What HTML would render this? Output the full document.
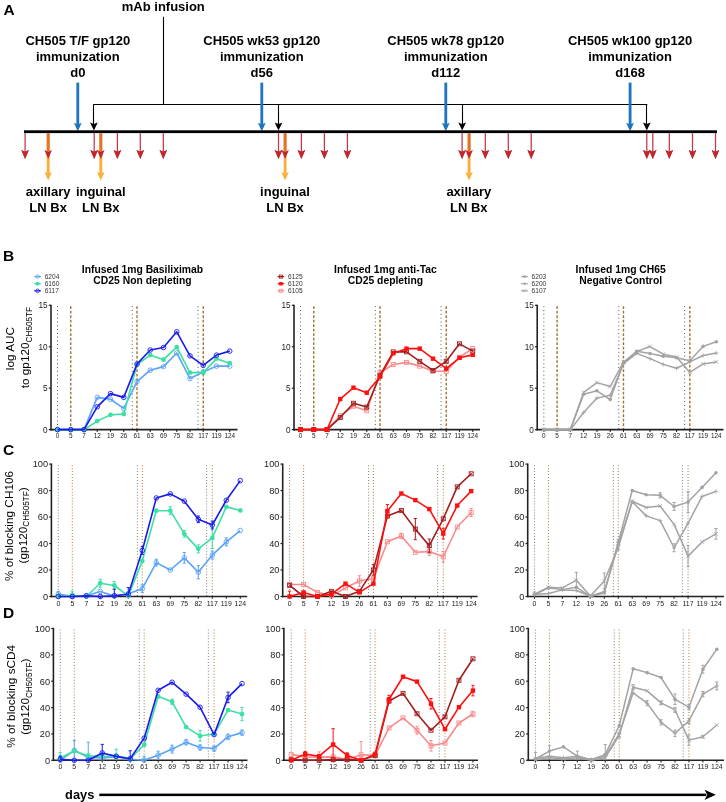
<!DOCTYPE html>
<html><head><meta charset="utf-8"><title>Figure</title>
<style>
html,body{margin:0;padding:0;background:#fff;}
body{width:726px;height:802px;overflow:hidden;}
svg{display:block;font-family:"Liberation Sans", sans-serif;will-change:transform;}
</style></head>
<body>
<svg width="726" height="802" viewBox="0 0 726 802">
<rect width="726" height="802" fill="#fff"/>
<text x="3.5" y="14.9" font-size="15.5" font-weight="bold" text-anchor="start" fill="#000" >A</text>
<text x="163.3" y="10.9" font-size="13" font-weight="bold" text-anchor="middle" fill="#000" >mAb infusion</text>
<line x1="163.5" y1="16.8" x2="163.5" y2="104.5" stroke="#000" stroke-width="1.1" />
<line x1="93.4" y1="104.5" x2="647.3" y2="104.5" stroke="#000" stroke-width="1.1" />
<text x="77.8" y="45.4" font-size="13" font-weight="bold" text-anchor="middle" fill="#000" >CH505 T/F gp120</text>
<text x="77.8" y="61.1" font-size="13" font-weight="bold" text-anchor="middle" fill="#000" >immunization</text>
<text x="77.8" y="76.6" font-size="13" font-weight="bold" text-anchor="middle" fill="#000" >d0</text>
<rect x="76.4" y="82.6" width="2.8" height="42.3" fill="#1C75BC"/>
<path d="M73.85,122.8 L77.8,124.6 L81.75,122.8 L77.8,131.3 Z" fill="#1C75BC"/>
<text x="261.8" y="45.4" font-size="13" font-weight="bold" text-anchor="middle" fill="#000" >CH505 wk53 gp120</text>
<text x="261.8" y="61.1" font-size="13" font-weight="bold" text-anchor="middle" fill="#000" >immunization</text>
<text x="261.8" y="76.6" font-size="13" font-weight="bold" text-anchor="middle" fill="#000" >d56</text>
<rect x="260.4" y="82.6" width="2.8" height="42.3" fill="#1C75BC"/>
<path d="M257.85,122.8 L261.8,124.6 L265.75,122.8 L261.8,131.3 Z" fill="#1C75BC"/>
<text x="445.8" y="45.4" font-size="13" font-weight="bold" text-anchor="middle" fill="#000" >CH505 wk78 gp120</text>
<text x="445.8" y="61.1" font-size="13" font-weight="bold" text-anchor="middle" fill="#000" >immunization</text>
<text x="445.8" y="76.6" font-size="13" font-weight="bold" text-anchor="middle" fill="#000" >d112</text>
<rect x="444.4" y="82.6" width="2.8" height="42.3" fill="#1C75BC"/>
<path d="M441.85,122.8 L445.8,124.6 L449.75,122.8 L445.8,131.3 Z" fill="#1C75BC"/>
<text x="630.1" y="45.4" font-size="13" font-weight="bold" text-anchor="middle" fill="#000" >CH505 wk100 gp120</text>
<text x="630.1" y="61.1" font-size="13" font-weight="bold" text-anchor="middle" fill="#000" >immunization</text>
<text x="630.1" y="76.6" font-size="13" font-weight="bold" text-anchor="middle" fill="#000" >d168</text>
<rect x="628.7" y="82.6" width="2.8" height="42.3" fill="#1C75BC"/>
<path d="M626.15,122.8 L630.1,124.6 L634.05,122.8 L630.1,131.3 Z" fill="#1C75BC"/>
<rect x="24" y="130.3" width="693" height="2.8" fill="#000"/>
<line x1="93.5" y1="104.4" x2="93.5" y2="124" stroke="#000" stroke-width="1.1" />
<path d="M90.05,122.4 L93.9,124 L97.75,122.4 L93.9,130.6 Z" fill="#000"/>
<line x1="278.5" y1="104.4" x2="278.5" y2="124" stroke="#000" stroke-width="1.1" />
<path d="M274.65,122.4 L278.5,124 L282.35,122.4 L278.5,130.6 Z" fill="#000"/>
<line x1="462.5" y1="104.4" x2="462.5" y2="124" stroke="#000" stroke-width="1.1" />
<path d="M458.35,122.4 L462.2,124 L466.05,122.4 L462.2,130.6 Z" fill="#000"/>
<line x1="646.5" y1="104.4" x2="646.5" y2="124" stroke="#000" stroke-width="1.1" />
<path d="M642.95,122.4 L646.8,124 L650.65,122.4 L646.8,130.6 Z" fill="#000"/>
<rect x="46.75" y="133.1" width="2.9" height="40.7" fill="#FAAF3B"/>
<path d="M44.45,172 L48.2,173.5 L51.95,172 L48.2,180.5 Z" fill="#FAAF3B"/>
<rect x="46.75" y="133.1" width="2.9" height="18" fill="#E3722E"/>
<rect x="99.35" y="133.1" width="2.9" height="40.7" fill="#FAAF3B"/>
<path d="M97.05,172 L100.8,173.5 L104.55,172 L100.8,180.5 Z" fill="#FAAF3B"/>
<rect x="99.35" y="133.1" width="2.9" height="18" fill="#E3722E"/>
<rect x="283.65" y="133.1" width="2.9" height="40.7" fill="#FAAF3B"/>
<path d="M281.35,172 L285.1,173.5 L288.85,172 L285.1,180.5 Z" fill="#FAAF3B"/>
<rect x="283.65" y="133.1" width="2.9" height="18" fill="#E3722E"/>
<rect x="467.65" y="133.1" width="2.9" height="40.7" fill="#FAAF3B"/>
<path d="M465.35,172 L469.1,173.5 L472.85,172 L469.1,180.5 Z" fill="#FAAF3B"/>
<rect x="467.65" y="133.1" width="2.9" height="18" fill="#E3722E"/>
<rect x="24.48" y="133.1" width="1.25" height="19" fill="#C3364A"/>
<path d="M21.3,150.1 L25.1,151.8 L28.9,150.1 L25.1,158.9 Z" fill="#C3364A"/>
<path d="M21.3,150.1 L25.1,151.8 L28.9,150.1 L25.1,158.9 Z" fill="#C1272D"/>
<path d="M44.4,150.1 L48.2,151.8 L52,150.1 L48.2,158.9 Z" fill="#C1272D"/>
<rect x="93.58" y="133.1" width="1.25" height="19" fill="#C3364A"/>
<path d="M90.4,150.1 L94.2,151.8 L98,150.1 L94.2,158.9 Z" fill="#C3364A"/>
<path d="M90.4,150.1 L94.2,151.8 L98,150.1 L94.2,158.9 Z" fill="#C1272D"/>
<path d="M97,150.1 L100.8,151.8 L104.6,150.1 L100.8,158.9 Z" fill="#C1272D"/>
<rect x="116.78" y="133.1" width="1.25" height="19" fill="#C3364A"/>
<path d="M113.6,150.1 L117.4,151.8 L121.2,150.1 L117.4,158.9 Z" fill="#C3364A"/>
<path d="M113.6,150.1 L117.4,151.8 L121.2,150.1 L117.4,158.9 Z" fill="#C1272D"/>
<rect x="139.68" y="133.1" width="1.25" height="19" fill="#C3364A"/>
<path d="M136.5,150.1 L140.3,151.8 L144.1,150.1 L140.3,158.9 Z" fill="#C3364A"/>
<path d="M136.5,150.1 L140.3,151.8 L144.1,150.1 L140.3,158.9 Z" fill="#C1272D"/>
<rect x="162.68" y="133.1" width="1.25" height="19" fill="#C3364A"/>
<path d="M159.5,150.1 L163.3,151.8 L167.1,150.1 L163.3,158.9 Z" fill="#C3364A"/>
<path d="M159.5,150.1 L163.3,151.8 L167.1,150.1 L163.3,158.9 Z" fill="#C1272D"/>
<rect x="277.88" y="133.1" width="1.25" height="19" fill="#C3364A"/>
<path d="M274.7,150.1 L278.5,151.8 L282.3,150.1 L278.5,158.9 Z" fill="#C3364A"/>
<path d="M274.7,150.1 L278.5,151.8 L282.3,150.1 L278.5,158.9 Z" fill="#C1272D"/>
<path d="M281.3,150.1 L285.1,151.8 L288.9,150.1 L285.1,158.9 Z" fill="#C1272D"/>
<rect x="300.77" y="133.1" width="1.25" height="19" fill="#C3364A"/>
<path d="M297.6,150.1 L301.4,151.8 L305.2,150.1 L301.4,158.9 Z" fill="#C3364A"/>
<path d="M297.6,150.1 L301.4,151.8 L305.2,150.1 L301.4,158.9 Z" fill="#C1272D"/>
<rect x="323.77" y="133.1" width="1.25" height="19" fill="#C3364A"/>
<path d="M320.6,150.1 L324.4,151.8 L328.2,150.1 L324.4,158.9 Z" fill="#C3364A"/>
<path d="M320.6,150.1 L324.4,151.8 L328.2,150.1 L324.4,158.9 Z" fill="#C1272D"/>
<rect x="346.77" y="133.1" width="1.25" height="19" fill="#C3364A"/>
<path d="M343.6,150.1 L347.4,151.8 L351.2,150.1 L347.4,158.9 Z" fill="#C3364A"/>
<path d="M343.6,150.1 L347.4,151.8 L351.2,150.1 L347.4,158.9 Z" fill="#C1272D"/>
<rect x="461.48" y="133.1" width="1.25" height="19" fill="#C3364A"/>
<path d="M458.3,150.1 L462.1,151.8 L465.9,150.1 L462.1,158.9 Z" fill="#C3364A"/>
<path d="M458.3,150.1 L462.1,151.8 L465.9,150.1 L462.1,158.9 Z" fill="#C1272D"/>
<path d="M465.3,150.1 L469.1,151.8 L472.9,150.1 L469.1,158.9 Z" fill="#C1272D"/>
<rect x="484.68" y="133.1" width="1.25" height="19" fill="#C3364A"/>
<path d="M481.5,150.1 L485.3,151.8 L489.1,150.1 L485.3,158.9 Z" fill="#C3364A"/>
<path d="M481.5,150.1 L485.3,151.8 L489.1,150.1 L485.3,158.9 Z" fill="#C1272D"/>
<rect x="507.68" y="133.1" width="1.25" height="19" fill="#C3364A"/>
<path d="M504.5,150.1 L508.3,151.8 L512.1,150.1 L508.3,158.9 Z" fill="#C3364A"/>
<path d="M504.5,150.1 L508.3,151.8 L512.1,150.1 L508.3,158.9 Z" fill="#C1272D"/>
<rect x="530.58" y="133.1" width="1.25" height="19" fill="#C3364A"/>
<path d="M527.4,150.1 L531.2,151.8 L535,150.1 L531.2,158.9 Z" fill="#C3364A"/>
<path d="M527.4,150.1 L531.2,151.8 L535,150.1 L531.2,158.9 Z" fill="#C1272D"/>
<rect x="646.17" y="133.1" width="1.25" height="19" fill="#C3364A"/>
<path d="M643,150.1 L646.8,151.8 L650.6,150.1 L646.8,158.9 Z" fill="#C3364A"/>
<path d="M643,150.1 L646.8,151.8 L650.6,150.1 L646.8,158.9 Z" fill="#C1272D"/>
<rect x="652.17" y="133.1" width="1.25" height="19" fill="#C3364A"/>
<path d="M649,150.1 L652.8,151.8 L656.6,150.1 L652.8,158.9 Z" fill="#C3364A"/>
<path d="M649,150.1 L652.8,151.8 L656.6,150.1 L652.8,158.9 Z" fill="#C1272D"/>
<rect x="668.67" y="133.1" width="1.25" height="19" fill="#C3364A"/>
<path d="M665.5,150.1 L669.3,151.8 L673.1,150.1 L669.3,158.9 Z" fill="#C3364A"/>
<path d="M665.5,150.1 L669.3,151.8 L673.1,150.1 L669.3,158.9 Z" fill="#C1272D"/>
<rect x="691.88" y="133.1" width="1.25" height="19" fill="#C3364A"/>
<path d="M688.7,150.1 L692.5,151.8 L696.3,150.1 L692.5,158.9 Z" fill="#C3364A"/>
<path d="M688.7,150.1 L692.5,151.8 L696.3,150.1 L692.5,158.9 Z" fill="#C1272D"/>
<rect x="714.88" y="133.1" width="1.25" height="19" fill="#C3364A"/>
<path d="M711.7,150.1 L715.5,151.8 L719.3,150.1 L715.5,158.9 Z" fill="#C3364A"/>
<path d="M711.7,150.1 L715.5,151.8 L719.3,150.1 L715.5,158.9 Z" fill="#C1272D"/>
<text x="48.1" y="196.4" font-size="13" font-weight="bold" text-anchor="middle" fill="#000" >axillary</text>
<text x="48.1" y="211.9" font-size="13" font-weight="bold" text-anchor="middle" fill="#000" >LN Bx</text>
<text x="100.8" y="196.4" font-size="13" font-weight="bold" text-anchor="middle" fill="#000" >inguinal</text>
<text x="100.8" y="211.9" font-size="13" font-weight="bold" text-anchor="middle" fill="#000" >LN Bx</text>
<text x="285" y="196.4" font-size="13" font-weight="bold" text-anchor="middle" fill="#000" >inguinal</text>
<text x="285" y="211.9" font-size="13" font-weight="bold" text-anchor="middle" fill="#000" >LN Bx</text>
<text x="468.8" y="196.4" font-size="13" font-weight="bold" text-anchor="middle" fill="#000" >axillary</text>
<text x="468.8" y="211.9" font-size="13" font-weight="bold" text-anchor="middle" fill="#000" >LN Bx</text>
<text x="3" y="260.9" font-size="15.5" font-weight="bold" text-anchor="start" fill="#000" >B</text>
<line x1="57.5" y1="306.3" x2="57.5" y2="429" stroke="#333" stroke-width="0.9" stroke-dasharray="0.9 2.9"/>
<line x1="70.75" y1="306.3" x2="70.75" y2="429" stroke="#A37330" stroke-width="1.4" stroke-dasharray="2.7 1.8"/>
<line x1="132.3" y1="306.3" x2="132.3" y2="429" stroke="#333" stroke-width="0.9" stroke-dasharray="0.9 2.9"/>
<line x1="137" y1="306.3" x2="137" y2="429" stroke="#A37330" stroke-width="1.4" stroke-dasharray="2.7 1.8"/>
<line x1="198.05" y1="306.3" x2="198.05" y2="429" stroke="#333" stroke-width="0.9" stroke-dasharray="0.9 2.9"/>
<line x1="203.25" y1="306.3" x2="203.25" y2="429" stroke="#A37330" stroke-width="1.4" stroke-dasharray="2.7 1.8"/>
<line x1="51" y1="304.7" x2="51" y2="430.4" stroke="#222" stroke-width="1.6" />
<line x1="48.8" y1="429.6" x2="51" y2="429.6" stroke="#222" stroke-width="1.2" />
<text x="47.6" y="432.55" font-size="8.2" text-anchor="end" fill="#222" >0</text>
<line x1="48.8" y1="388.17" x2="51" y2="388.17" stroke="#222" stroke-width="1.2" />
<text x="47.6" y="391.12" font-size="8.2" text-anchor="end" fill="#222" >5</text>
<line x1="48.8" y1="346.73" x2="51" y2="346.73" stroke="#222" stroke-width="1.2" />
<text x="47.6" y="349.68" font-size="8.2" text-anchor="end" fill="#222" >10</text>
<line x1="48.8" y1="305.3" x2="51" y2="305.3" stroke="#222" stroke-width="1.2" />
<text x="47.6" y="308.25" font-size="8.2" text-anchor="end" fill="#222" >15</text>
<line x1="50.2" y1="429.6" x2="237.5" y2="429.6" stroke="#222" stroke-width="1.6" />
<line x1="57.5" y1="429.6" x2="57.5" y2="431.9" stroke="#222" stroke-width="1.1" />
<text x="57.5" y="438" font-size="6.4" text-anchor="middle" fill="#222" >0</text>
<line x1="70.75" y1="429.6" x2="70.75" y2="431.9" stroke="#222" stroke-width="1.1" />
<text x="70.75" y="438" font-size="6.4" text-anchor="middle" fill="#222" >5</text>
<line x1="84" y1="429.6" x2="84" y2="431.9" stroke="#222" stroke-width="1.1" />
<text x="84" y="438" font-size="6.4" text-anchor="middle" fill="#222" >7</text>
<line x1="97.25" y1="429.6" x2="97.25" y2="431.9" stroke="#222" stroke-width="1.1" />
<text x="97.25" y="438" font-size="6.4" text-anchor="middle" fill="#222" >12</text>
<line x1="110.5" y1="429.6" x2="110.5" y2="431.9" stroke="#222" stroke-width="1.1" />
<text x="110.5" y="438" font-size="6.4" text-anchor="middle" fill="#222" >19</text>
<line x1="123.75" y1="429.6" x2="123.75" y2="431.9" stroke="#222" stroke-width="1.1" />
<text x="123.75" y="438" font-size="6.4" text-anchor="middle" fill="#222" >26</text>
<line x1="137" y1="429.6" x2="137" y2="431.9" stroke="#222" stroke-width="1.1" />
<text x="137" y="438" font-size="6.4" text-anchor="middle" fill="#222" >61</text>
<line x1="150.25" y1="429.6" x2="150.25" y2="431.9" stroke="#222" stroke-width="1.1" />
<text x="150.25" y="438" font-size="6.4" text-anchor="middle" fill="#222" >63</text>
<line x1="163.5" y1="429.6" x2="163.5" y2="431.9" stroke="#222" stroke-width="1.1" />
<text x="163.5" y="438" font-size="6.4" text-anchor="middle" fill="#222" >69</text>
<line x1="176.75" y1="429.6" x2="176.75" y2="431.9" stroke="#222" stroke-width="1.1" />
<text x="176.75" y="438" font-size="6.4" text-anchor="middle" fill="#222" >75</text>
<line x1="190" y1="429.6" x2="190" y2="431.9" stroke="#222" stroke-width="1.1" />
<text x="190" y="438" font-size="6.4" text-anchor="middle" fill="#222" >82</text>
<line x1="203.25" y1="429.6" x2="203.25" y2="431.9" stroke="#222" stroke-width="1.1" />
<text x="203.25" y="438" font-size="6.4" text-anchor="middle" fill="#222" >117</text>
<line x1="216.5" y1="429.6" x2="216.5" y2="431.9" stroke="#222" stroke-width="1.1" />
<text x="216.5" y="438" font-size="6.4" text-anchor="middle" fill="#222" >119</text>
<line x1="229.75" y1="429.6" x2="229.75" y2="431.9" stroke="#222" stroke-width="1.1" />
<text x="229.75" y="438" font-size="6.4" text-anchor="middle" fill="#222" >124</text>
<line x1="300.5" y1="306.3" x2="300.5" y2="429" stroke="#333" stroke-width="0.9" stroke-dasharray="0.9 2.9"/>
<line x1="313.75" y1="306.3" x2="313.75" y2="429" stroke="#A37330" stroke-width="1.4" stroke-dasharray="2.7 1.8"/>
<line x1="375.3" y1="306.3" x2="375.3" y2="429" stroke="#333" stroke-width="0.9" stroke-dasharray="0.9 2.9"/>
<line x1="380" y1="306.3" x2="380" y2="429" stroke="#A37330" stroke-width="1.4" stroke-dasharray="2.7 1.8"/>
<line x1="441.05" y1="306.3" x2="441.05" y2="429" stroke="#333" stroke-width="0.9" stroke-dasharray="0.9 2.9"/>
<line x1="446.25" y1="306.3" x2="446.25" y2="429" stroke="#A37330" stroke-width="1.4" stroke-dasharray="2.7 1.8"/>
<line x1="294" y1="304.7" x2="294" y2="430.4" stroke="#222" stroke-width="1.6" />
<line x1="291.8" y1="429.6" x2="294" y2="429.6" stroke="#222" stroke-width="1.2" />
<text x="290.6" y="432.55" font-size="8.2" text-anchor="end" fill="#222" >0</text>
<line x1="291.8" y1="388.17" x2="294" y2="388.17" stroke="#222" stroke-width="1.2" />
<text x="290.6" y="391.12" font-size="8.2" text-anchor="end" fill="#222" >5</text>
<line x1="291.8" y1="346.73" x2="294" y2="346.73" stroke="#222" stroke-width="1.2" />
<text x="290.6" y="349.68" font-size="8.2" text-anchor="end" fill="#222" >10</text>
<line x1="291.8" y1="305.3" x2="294" y2="305.3" stroke="#222" stroke-width="1.2" />
<text x="290.6" y="308.25" font-size="8.2" text-anchor="end" fill="#222" >15</text>
<line x1="293.2" y1="429.6" x2="480" y2="429.6" stroke="#222" stroke-width="1.6" />
<line x1="300.5" y1="429.6" x2="300.5" y2="431.9" stroke="#222" stroke-width="1.1" />
<text x="300.5" y="438" font-size="6.4" text-anchor="middle" fill="#222" >0</text>
<line x1="313.75" y1="429.6" x2="313.75" y2="431.9" stroke="#222" stroke-width="1.1" />
<text x="313.75" y="438" font-size="6.4" text-anchor="middle" fill="#222" >5</text>
<line x1="327" y1="429.6" x2="327" y2="431.9" stroke="#222" stroke-width="1.1" />
<text x="327" y="438" font-size="6.4" text-anchor="middle" fill="#222" >7</text>
<line x1="340.25" y1="429.6" x2="340.25" y2="431.9" stroke="#222" stroke-width="1.1" />
<text x="340.25" y="438" font-size="6.4" text-anchor="middle" fill="#222" >12</text>
<line x1="353.5" y1="429.6" x2="353.5" y2="431.9" stroke="#222" stroke-width="1.1" />
<text x="353.5" y="438" font-size="6.4" text-anchor="middle" fill="#222" >19</text>
<line x1="366.75" y1="429.6" x2="366.75" y2="431.9" stroke="#222" stroke-width="1.1" />
<text x="366.75" y="438" font-size="6.4" text-anchor="middle" fill="#222" >26</text>
<line x1="380" y1="429.6" x2="380" y2="431.9" stroke="#222" stroke-width="1.1" />
<text x="380" y="438" font-size="6.4" text-anchor="middle" fill="#222" >61</text>
<line x1="393.25" y1="429.6" x2="393.25" y2="431.9" stroke="#222" stroke-width="1.1" />
<text x="393.25" y="438" font-size="6.4" text-anchor="middle" fill="#222" >63</text>
<line x1="406.5" y1="429.6" x2="406.5" y2="431.9" stroke="#222" stroke-width="1.1" />
<text x="406.5" y="438" font-size="6.4" text-anchor="middle" fill="#222" >69</text>
<line x1="419.75" y1="429.6" x2="419.75" y2="431.9" stroke="#222" stroke-width="1.1" />
<text x="419.75" y="438" font-size="6.4" text-anchor="middle" fill="#222" >75</text>
<line x1="433" y1="429.6" x2="433" y2="431.9" stroke="#222" stroke-width="1.1" />
<text x="433" y="438" font-size="6.4" text-anchor="middle" fill="#222" >82</text>
<line x1="446.25" y1="429.6" x2="446.25" y2="431.9" stroke="#222" stroke-width="1.1" />
<text x="446.25" y="438" font-size="6.4" text-anchor="middle" fill="#222" >117</text>
<line x1="459.5" y1="429.6" x2="459.5" y2="431.9" stroke="#222" stroke-width="1.1" />
<text x="459.5" y="438" font-size="6.4" text-anchor="middle" fill="#222" >119</text>
<line x1="472.75" y1="429.6" x2="472.75" y2="431.9" stroke="#222" stroke-width="1.1" />
<text x="472.75" y="438" font-size="6.4" text-anchor="middle" fill="#222" >124</text>
<line x1="543.85" y1="306.3" x2="543.85" y2="429" stroke="#333" stroke-width="0.9" stroke-dasharray="0.9 2.9"/>
<line x1="557.12" y1="306.3" x2="557.12" y2="429" stroke="#A37330" stroke-width="1.4" stroke-dasharray="2.7 1.8"/>
<line x1="618.77" y1="306.3" x2="618.77" y2="429" stroke="#333" stroke-width="0.9" stroke-dasharray="0.9 2.9"/>
<line x1="623.47" y1="306.3" x2="623.47" y2="429" stroke="#A37330" stroke-width="1.4" stroke-dasharray="2.7 1.8"/>
<line x1="684.62" y1="306.3" x2="684.62" y2="429" stroke="#333" stroke-width="0.9" stroke-dasharray="0.9 2.9"/>
<line x1="689.82" y1="306.3" x2="689.82" y2="429" stroke="#A37330" stroke-width="1.4" stroke-dasharray="2.7 1.8"/>
<line x1="537.2" y1="304.7" x2="537.2" y2="430.4" stroke="#222" stroke-width="1.6" />
<line x1="535" y1="429.6" x2="537.2" y2="429.6" stroke="#222" stroke-width="1.2" />
<text x="533.8" y="432.55" font-size="8.2" text-anchor="end" fill="#222" >0</text>
<line x1="535" y1="388.17" x2="537.2" y2="388.17" stroke="#222" stroke-width="1.2" />
<text x="533.8" y="391.12" font-size="8.2" text-anchor="end" fill="#222" >5</text>
<line x1="535" y1="346.73" x2="537.2" y2="346.73" stroke="#222" stroke-width="1.2" />
<text x="533.8" y="349.68" font-size="8.2" text-anchor="end" fill="#222" >10</text>
<line x1="535" y1="305.3" x2="537.2" y2="305.3" stroke="#222" stroke-width="1.2" />
<text x="533.8" y="308.25" font-size="8.2" text-anchor="end" fill="#222" >15</text>
<line x1="536.4" y1="429.6" x2="723.5" y2="429.6" stroke="#222" stroke-width="1.6" />
<line x1="543.85" y1="429.6" x2="543.85" y2="431.9" stroke="#222" stroke-width="1.1" />
<text x="543.85" y="438" font-size="6.4" text-anchor="middle" fill="#222" >0</text>
<line x1="557.12" y1="429.6" x2="557.12" y2="431.9" stroke="#222" stroke-width="1.1" />
<text x="557.12" y="438" font-size="6.4" text-anchor="middle" fill="#222" >5</text>
<line x1="570.39" y1="429.6" x2="570.39" y2="431.9" stroke="#222" stroke-width="1.1" />
<text x="570.39" y="438" font-size="6.4" text-anchor="middle" fill="#222" >7</text>
<line x1="583.66" y1="429.6" x2="583.66" y2="431.9" stroke="#222" stroke-width="1.1" />
<text x="583.66" y="438" font-size="6.4" text-anchor="middle" fill="#222" >12</text>
<line x1="596.93" y1="429.6" x2="596.93" y2="431.9" stroke="#222" stroke-width="1.1" />
<text x="596.93" y="438" font-size="6.4" text-anchor="middle" fill="#222" >19</text>
<line x1="610.2" y1="429.6" x2="610.2" y2="431.9" stroke="#222" stroke-width="1.1" />
<text x="610.2" y="438" font-size="6.4" text-anchor="middle" fill="#222" >26</text>
<line x1="623.47" y1="429.6" x2="623.47" y2="431.9" stroke="#222" stroke-width="1.1" />
<text x="623.47" y="438" font-size="6.4" text-anchor="middle" fill="#222" >61</text>
<line x1="636.74" y1="429.6" x2="636.74" y2="431.9" stroke="#222" stroke-width="1.1" />
<text x="636.74" y="438" font-size="6.4" text-anchor="middle" fill="#222" >63</text>
<line x1="650.01" y1="429.6" x2="650.01" y2="431.9" stroke="#222" stroke-width="1.1" />
<text x="650.01" y="438" font-size="6.4" text-anchor="middle" fill="#222" >69</text>
<line x1="663.28" y1="429.6" x2="663.28" y2="431.9" stroke="#222" stroke-width="1.1" />
<text x="663.28" y="438" font-size="6.4" text-anchor="middle" fill="#222" >75</text>
<line x1="676.55" y1="429.6" x2="676.55" y2="431.9" stroke="#222" stroke-width="1.1" />
<text x="676.55" y="438" font-size="6.4" text-anchor="middle" fill="#222" >82</text>
<line x1="689.82" y1="429.6" x2="689.82" y2="431.9" stroke="#222" stroke-width="1.1" />
<text x="689.82" y="438" font-size="6.4" text-anchor="middle" fill="#222" >117</text>
<line x1="703.09" y1="429.6" x2="703.09" y2="431.9" stroke="#222" stroke-width="1.1" />
<text x="703.09" y="438" font-size="6.4" text-anchor="middle" fill="#222" >119</text>
<line x1="716.36" y1="429.6" x2="716.36" y2="431.9" stroke="#222" stroke-width="1.1" />
<text x="716.36" y="438" font-size="6.4" text-anchor="middle" fill="#222" >124</text>
<text x="142.5" y="272.9" font-size="10.35" font-weight="bold" text-anchor="middle" fill="#000" >Infused 1mg Basiliximab</text>
<text x="142.5" y="284.3" font-size="10.35" font-weight="bold" text-anchor="middle" fill="#000" >CD25 Non depleting</text>
<text x="385.4" y="272.9" font-size="10.35" font-weight="bold" text-anchor="middle" fill="#000" >Infused 1mg anti-Tac</text>
<text x="385.4" y="284.3" font-size="10.35" font-weight="bold" text-anchor="middle" fill="#000" >CD25 depleting</text>
<text x="620.7" y="272.9" font-size="10.35" font-weight="bold" text-anchor="middle" fill="#000" >Infused 1mg CH65</text>
<text x="620.7" y="284.3" font-size="10.35" font-weight="bold" text-anchor="middle" fill="#000" >Negative Control</text>
<line x1="34.3" y1="276.6" x2="40.9" y2="276.6" stroke="#5BA3F7" stroke-width="1.3" />
<g transform="translate(37.6,276.6) scale(0.8) translate(-37.6,-276.6)">
<circle cx="37.6" cy="276.6" r="2.3" fill="none" stroke="#5BA3F7" stroke-width="0.9"/>
</g>
<text x="44.7" y="278.9" font-size="6.6" text-anchor="start" fill="#333" >6204</text>
<line x1="34.3" y1="283.7" x2="40.9" y2="283.7" stroke="#3DE0A2" stroke-width="1.3" />
<g transform="translate(37.6,283.7) scale(0.8) translate(-37.6,-283.7)">
<circle cx="37.6" cy="283.7" r="2.4" fill="#3DE0A2"/>
</g>
<text x="44.7" y="286" font-size="6.6" text-anchor="start" fill="#333" >6160</text>
<line x1="34.3" y1="290.8" x2="40.9" y2="290.8" stroke="#1A1AEE" stroke-width="1.3" />
<g transform="translate(37.6,290.8) scale(0.8) translate(-37.6,-290.8)">
<circle cx="37.6" cy="290.8" r="2.3" fill="none" stroke="#1A1AEE" stroke-width="0.9"/>
</g>
<text x="44.7" y="293.1" font-size="6.6" text-anchor="start" fill="#333" >6117</text>
<line x1="277.6" y1="276.6" x2="284.2" y2="276.6" stroke="#A01E1E" stroke-width="1.3" />
<g transform="translate(280.9,276.6) scale(0.8) translate(-280.9,-276.6)">
<rect x="278.9" y="274.6" width="4" height="4" fill="none" stroke="#A01E1E" stroke-width="0.9"/>
<path d="M279.3,275 L282.5,278.2 M282.5,275 L279.3,278.2" stroke="#A01E1E" stroke-width="0.7"/>
</g>
<text x="288" y="278.9" font-size="6.6" text-anchor="start" fill="#333" >6125</text>
<line x1="277.6" y1="283.7" x2="284.2" y2="283.7" stroke="#FF1010" stroke-width="1.3" />
<g transform="translate(280.9,283.7) scale(0.8) translate(-280.9,-283.7)">
<rect x="278.7" y="281.5" width="4.4" height="4.4" fill="#FF1010"/>
</g>
<text x="288" y="286" font-size="6.6" text-anchor="start" fill="#333" >6120</text>
<line x1="277.6" y1="290.8" x2="284.2" y2="290.8" stroke="#F98A8A" stroke-width="1.3" />
<g transform="translate(280.9,290.8) scale(0.8) translate(-280.9,-290.8)">
<rect x="278.9" y="288.8" width="4" height="4" fill="none" stroke="#F98A8A" stroke-width="0.9"/>
</g>
<text x="288" y="293.1" font-size="6.6" text-anchor="start" fill="#333" >6105</text>
<line x1="521.2" y1="276.6" x2="527.8" y2="276.6" stroke="#A3A3A3" stroke-width="1.3" />
<g transform="translate(524.5,276.6) scale(0.8) translate(-524.5,-276.6)">
<circle cx="524.5" cy="276.6" r="1.8" fill="#A3A3A3"/>
</g>
<text x="531.6" y="278.9" font-size="6.6" text-anchor="start" fill="#333" >6203</text>
<line x1="521.2" y1="283.7" x2="527.8" y2="283.7" stroke="#A3A3A3" stroke-width="1.3" />
<g transform="translate(524.5,283.7) scale(0.8) translate(-524.5,-283.7)">
<path d="M522.3,283.7 L526.7,283.7 M524.5,281.5 L524.5,285.9" stroke="#A3A3A3" stroke-width="0.8"/>
</g>
<text x="531.6" y="286" font-size="6.6" text-anchor="start" fill="#333" >6200</text>
<line x1="521.2" y1="290.8" x2="527.8" y2="290.8" stroke="#A3A3A3" stroke-width="1.3" />
<g transform="translate(524.5,290.8) scale(0.8) translate(-524.5,-290.8)">
<path d="M522.5,288.8 L526.5,292.8 M526.5,288.8 L522.5,292.8" stroke="#A3A3A3" stroke-width="0.8"/>
</g>
<text x="531.6" y="293.1" font-size="6.6" text-anchor="start" fill="#333" >6107</text>
<path d="M57.5,429.6 L70.75,429.6 L84,429.6 L97.25,397.36 L110.5,399.27 L123.75,408.39 L137,381.54 L150.25,370.18 L163.5,366.62 L176.75,352.95 L190,378.55 L203.25,372.09 L216.5,366.12 L229.75,366.12" fill="none" stroke="#5BA3F7" stroke-width="1.6" stroke-linejoin="round"/>
<circle cx="57.5" cy="429.6" r="2.3" fill="none" stroke="#5BA3F7" stroke-width="0.9"/>
<circle cx="70.75" cy="429.6" r="2.3" fill="none" stroke="#5BA3F7" stroke-width="0.9"/>
<circle cx="84" cy="429.6" r="2.3" fill="none" stroke="#5BA3F7" stroke-width="0.9"/>
<circle cx="97.25" cy="397.36" r="2.3" fill="none" stroke="#5BA3F7" stroke-width="0.9"/>
<circle cx="110.5" cy="399.27" r="2.3" fill="none" stroke="#5BA3F7" stroke-width="0.9"/>
<circle cx="123.75" cy="408.39" r="2.3" fill="none" stroke="#5BA3F7" stroke-width="0.9"/>
<circle cx="137" cy="381.54" r="2.3" fill="none" stroke="#5BA3F7" stroke-width="0.9"/>
<circle cx="150.25" cy="370.18" r="2.3" fill="none" stroke="#5BA3F7" stroke-width="0.9"/>
<circle cx="163.5" cy="366.62" r="2.3" fill="none" stroke="#5BA3F7" stroke-width="0.9"/>
<circle cx="176.75" cy="352.95" r="2.3" fill="none" stroke="#5BA3F7" stroke-width="0.9"/>
<circle cx="190" cy="378.55" r="2.3" fill="none" stroke="#5BA3F7" stroke-width="0.9"/>
<circle cx="203.25" cy="372.09" r="2.3" fill="none" stroke="#5BA3F7" stroke-width="0.9"/>
<circle cx="216.5" cy="366.12" r="2.3" fill="none" stroke="#5BA3F7" stroke-width="0.9"/>
<circle cx="229.75" cy="366.12" r="2.3" fill="none" stroke="#5BA3F7" stroke-width="0.9"/>
<path d="M57.5,429.6 L70.75,429.6 L84,429.6 L97.25,421.06 L110.5,414.85 L123.75,414.02 L137,364.55 L150.25,355.1 L163.5,359.66 L176.75,347.06 L190,372.59 L203.25,372.59 L216.5,358.66 L229.75,363.22" fill="none" stroke="#3DE0A2" stroke-width="1.6" stroke-linejoin="round"/>
<circle cx="57.5" cy="429.6" r="2.4" fill="#3DE0A2"/>
<circle cx="70.75" cy="429.6" r="2.4" fill="#3DE0A2"/>
<circle cx="84" cy="429.6" r="2.4" fill="#3DE0A2"/>
<circle cx="97.25" cy="421.06" r="2.4" fill="#3DE0A2"/>
<circle cx="110.5" cy="414.85" r="2.4" fill="#3DE0A2"/>
<circle cx="123.75" cy="414.02" r="2.4" fill="#3DE0A2"/>
<circle cx="137" cy="364.55" r="2.4" fill="#3DE0A2"/>
<circle cx="150.25" cy="355.1" r="2.4" fill="#3DE0A2"/>
<circle cx="163.5" cy="359.66" r="2.4" fill="#3DE0A2"/>
<circle cx="176.75" cy="347.06" r="2.4" fill="#3DE0A2"/>
<circle cx="190" cy="372.59" r="2.4" fill="#3DE0A2"/>
<circle cx="203.25" cy="372.59" r="2.4" fill="#3DE0A2"/>
<circle cx="216.5" cy="358.66" r="2.4" fill="#3DE0A2"/>
<circle cx="229.75" cy="363.22" r="2.4" fill="#3DE0A2"/>
<path d="M57.5,429.6 L70.75,429.6 L84,429.6 L97.25,406.81 L110.5,393.63 L123.75,397.36 L137,364.13 L150.25,350.04 L163.5,347.56 L176.75,331.81 L190,355.85 L203.25,365.38 L216.5,355.1 L229.75,351.12" fill="none" stroke="#1A1AEE" stroke-width="1.6" stroke-linejoin="round"/>
<circle cx="57.5" cy="429.6" r="2.3" fill="none" stroke="#1A1AEE" stroke-width="0.9"/>
<circle cx="70.75" cy="429.6" r="2.3" fill="none" stroke="#1A1AEE" stroke-width="0.9"/>
<circle cx="84" cy="429.6" r="2.3" fill="none" stroke="#1A1AEE" stroke-width="0.9"/>
<circle cx="97.25" cy="406.81" r="2.3" fill="none" stroke="#1A1AEE" stroke-width="0.9"/>
<circle cx="110.5" cy="393.63" r="2.3" fill="none" stroke="#1A1AEE" stroke-width="0.9"/>
<circle cx="123.75" cy="397.36" r="2.3" fill="none" stroke="#1A1AEE" stroke-width="0.9"/>
<circle cx="137" cy="364.13" r="2.3" fill="none" stroke="#1A1AEE" stroke-width="0.9"/>
<circle cx="150.25" cy="350.04" r="2.3" fill="none" stroke="#1A1AEE" stroke-width="0.9"/>
<circle cx="163.5" cy="347.56" r="2.3" fill="none" stroke="#1A1AEE" stroke-width="0.9"/>
<circle cx="176.75" cy="331.81" r="2.3" fill="none" stroke="#1A1AEE" stroke-width="0.9"/>
<circle cx="190" cy="355.85" r="2.3" fill="none" stroke="#1A1AEE" stroke-width="0.9"/>
<circle cx="203.25" cy="365.38" r="2.3" fill="none" stroke="#1A1AEE" stroke-width="0.9"/>
<circle cx="216.5" cy="355.1" r="2.3" fill="none" stroke="#1A1AEE" stroke-width="0.9"/>
<circle cx="229.75" cy="351.12" r="2.3" fill="none" stroke="#1A1AEE" stroke-width="0.9"/>
<path d="M300.5,429.6 L313.75,429.6 L327,429.6 L340.25,415.68 L353.5,406.23 L366.75,410.79 L380,372.59 L393.25,364.55 L406.5,362.39 L419.75,366.12 L433,371.26 L446.25,371.26 L459.5,357.25 L472.75,348.39" fill="none" stroke="#F98A8A" stroke-width="1.6" stroke-linejoin="round"/>
<rect x="298.5" y="427.6" width="4" height="4" fill="none" stroke="#F98A8A" stroke-width="0.9"/>
<rect x="311.75" y="427.6" width="4" height="4" fill="none" stroke="#F98A8A" stroke-width="0.9"/>
<rect x="325" y="427.6" width="4" height="4" fill="none" stroke="#F98A8A" stroke-width="0.9"/>
<rect x="338.25" y="413.68" width="4" height="4" fill="none" stroke="#F98A8A" stroke-width="0.9"/>
<rect x="351.5" y="404.23" width="4" height="4" fill="none" stroke="#F98A8A" stroke-width="0.9"/>
<rect x="364.75" y="408.79" width="4" height="4" fill="none" stroke="#F98A8A" stroke-width="0.9"/>
<rect x="378" y="370.59" width="4" height="4" fill="none" stroke="#F98A8A" stroke-width="0.9"/>
<rect x="391.25" y="362.55" width="4" height="4" fill="none" stroke="#F98A8A" stroke-width="0.9"/>
<rect x="404.5" y="360.39" width="4" height="4" fill="none" stroke="#F98A8A" stroke-width="0.9"/>
<rect x="417.75" y="364.12" width="4" height="4" fill="none" stroke="#F98A8A" stroke-width="0.9"/>
<rect x="431" y="369.26" width="4" height="4" fill="none" stroke="#F98A8A" stroke-width="0.9"/>
<rect x="444.25" y="369.26" width="4" height="4" fill="none" stroke="#F98A8A" stroke-width="0.9"/>
<rect x="457.5" y="355.25" width="4" height="4" fill="none" stroke="#F98A8A" stroke-width="0.9"/>
<rect x="470.75" y="346.39" width="4" height="4" fill="none" stroke="#F98A8A" stroke-width="0.9"/>
<path d="M300.5,429.6 L313.75,429.6 L327,429.6 L340.25,417.58 L353.5,403.25 L366.75,407.06 L380,375.32 L393.25,351.87 L406.5,351.87 L419.75,361.32 L433,370.43 L446.25,361.32 L459.5,343.83 L472.75,351.12" fill="none" stroke="#A01E1E" stroke-width="1.6" stroke-linejoin="round"/>
<rect x="298.5" y="427.6" width="4" height="4" fill="none" stroke="#A01E1E" stroke-width="0.9"/>
<path d="M298.9,428 L302.1,431.2 M302.1,428 L298.9,431.2" stroke="#A01E1E" stroke-width="0.7"/>
<rect x="311.75" y="427.6" width="4" height="4" fill="none" stroke="#A01E1E" stroke-width="0.9"/>
<path d="M312.15,428 L315.35,431.2 M315.35,428 L312.15,431.2" stroke="#A01E1E" stroke-width="0.7"/>
<rect x="325" y="427.6" width="4" height="4" fill="none" stroke="#A01E1E" stroke-width="0.9"/>
<path d="M325.4,428 L328.6,431.2 M328.6,428 L325.4,431.2" stroke="#A01E1E" stroke-width="0.7"/>
<rect x="338.25" y="415.58" width="4" height="4" fill="none" stroke="#A01E1E" stroke-width="0.9"/>
<path d="M338.65,415.98 L341.85,419.18 M341.85,415.98 L338.65,419.18" stroke="#A01E1E" stroke-width="0.7"/>
<rect x="351.5" y="401.25" width="4" height="4" fill="none" stroke="#A01E1E" stroke-width="0.9"/>
<path d="M351.9,401.65 L355.1,404.85 M355.1,401.65 L351.9,404.85" stroke="#A01E1E" stroke-width="0.7"/>
<rect x="364.75" y="405.06" width="4" height="4" fill="none" stroke="#A01E1E" stroke-width="0.9"/>
<path d="M365.15,405.46 L368.35,408.66 M368.35,405.46 L365.15,408.66" stroke="#A01E1E" stroke-width="0.7"/>
<rect x="378" y="373.32" width="4" height="4" fill="none" stroke="#A01E1E" stroke-width="0.9"/>
<path d="M378.4,373.72 L381.6,376.92 M381.6,373.72 L378.4,376.92" stroke="#A01E1E" stroke-width="0.7"/>
<rect x="391.25" y="349.87" width="4" height="4" fill="none" stroke="#A01E1E" stroke-width="0.9"/>
<path d="M391.65,350.27 L394.85,353.47 M394.85,350.27 L391.65,353.47" stroke="#A01E1E" stroke-width="0.7"/>
<rect x="404.5" y="349.87" width="4" height="4" fill="none" stroke="#A01E1E" stroke-width="0.9"/>
<path d="M404.9,350.27 L408.1,353.47 M408.1,350.27 L404.9,353.47" stroke="#A01E1E" stroke-width="0.7"/>
<rect x="417.75" y="359.32" width="4" height="4" fill="none" stroke="#A01E1E" stroke-width="0.9"/>
<path d="M418.15,359.72 L421.35,362.92 M421.35,359.72 L418.15,362.92" stroke="#A01E1E" stroke-width="0.7"/>
<rect x="431" y="368.43" width="4" height="4" fill="none" stroke="#A01E1E" stroke-width="0.9"/>
<path d="M431.4,368.83 L434.6,372.03 M434.6,368.83 L431.4,372.03" stroke="#A01E1E" stroke-width="0.7"/>
<rect x="444.25" y="359.32" width="4" height="4" fill="none" stroke="#A01E1E" stroke-width="0.9"/>
<path d="M444.65,359.72 L447.85,362.92 M447.85,359.72 L444.65,362.92" stroke="#A01E1E" stroke-width="0.7"/>
<rect x="457.5" y="341.83" width="4" height="4" fill="none" stroke="#A01E1E" stroke-width="0.9"/>
<path d="M457.9,342.23 L461.1,345.43 M461.1,342.23 L457.9,345.43" stroke="#A01E1E" stroke-width="0.7"/>
<rect x="470.75" y="349.12" width="4" height="4" fill="none" stroke="#A01E1E" stroke-width="0.9"/>
<path d="M471.15,349.52 L474.35,352.72 M474.35,349.52 L471.15,352.72" stroke="#A01E1E" stroke-width="0.7"/>
<path d="M300.5,429.6 L313.75,429.6 L327,429.6 L340.25,399.02 L353.5,387.67 L366.75,392.72 L380,376.65 L393.25,353.28 L406.5,348.64 L419.75,348.64 L433,358.66 L446.25,368.61 L459.5,357.83 L472.75,354.85" fill="none" stroke="#FF1010" stroke-width="1.6" stroke-linejoin="round"/>
<rect x="298.3" y="427.4" width="4.4" height="4.4" fill="#FF1010"/>
<rect x="311.55" y="427.4" width="4.4" height="4.4" fill="#FF1010"/>
<rect x="324.8" y="427.4" width="4.4" height="4.4" fill="#FF1010"/>
<rect x="338.05" y="396.82" width="4.4" height="4.4" fill="#FF1010"/>
<rect x="351.3" y="385.47" width="4.4" height="4.4" fill="#FF1010"/>
<rect x="364.55" y="390.52" width="4.4" height="4.4" fill="#FF1010"/>
<rect x="377.8" y="374.45" width="4.4" height="4.4" fill="#FF1010"/>
<rect x="391.05" y="351.08" width="4.4" height="4.4" fill="#FF1010"/>
<rect x="404.3" y="346.44" width="4.4" height="4.4" fill="#FF1010"/>
<rect x="417.55" y="346.44" width="4.4" height="4.4" fill="#FF1010"/>
<rect x="430.8" y="356.46" width="4.4" height="4.4" fill="#FF1010"/>
<rect x="444.05" y="366.41" width="4.4" height="4.4" fill="#FF1010"/>
<rect x="457.3" y="355.63" width="4.4" height="4.4" fill="#FF1010"/>
<rect x="470.55" y="352.65" width="4.4" height="4.4" fill="#FF1010"/>
<path d="M543.85,429.6 L557.12,429.6 L570.39,429.6 L583.66,392.31 L596.93,382.61 L610.2,386.51 L623.47,362.06 L636.74,351.62 L650.01,346.56 L663.28,354.19 L676.55,357.09 L689.82,372.42 L703.09,363.97 L716.36,361.9" fill="none" stroke="#A3A3A3" stroke-width="1.5" stroke-linejoin="round"/>
<path d="M541.85,427.6 L545.85,431.6 M545.85,427.6 L541.85,431.6" stroke="#A3A3A3" stroke-width="0.8"/>
<path d="M555.12,427.6 L559.12,431.6 M559.12,427.6 L555.12,431.6" stroke="#A3A3A3" stroke-width="0.8"/>
<path d="M568.39,427.6 L572.39,431.6 M572.39,427.6 L568.39,431.6" stroke="#A3A3A3" stroke-width="0.8"/>
<path d="M581.66,390.31 L585.66,394.31 M585.66,390.31 L581.66,394.31" stroke="#A3A3A3" stroke-width="0.8"/>
<path d="M594.93,380.61 L598.93,384.61 M598.93,380.61 L594.93,384.61" stroke="#A3A3A3" stroke-width="0.8"/>
<path d="M608.2,384.51 L612.2,388.51 M612.2,384.51 L608.2,388.51" stroke="#A3A3A3" stroke-width="0.8"/>
<path d="M621.47,360.06 L625.47,364.06 M625.47,360.06 L621.47,364.06" stroke="#A3A3A3" stroke-width="0.8"/>
<path d="M634.74,349.62 L638.74,353.62 M638.74,349.62 L634.74,353.62" stroke="#A3A3A3" stroke-width="0.8"/>
<path d="M648.01,344.56 L652.01,348.56 M652.01,344.56 L648.01,348.56" stroke="#A3A3A3" stroke-width="0.8"/>
<path d="M661.28,352.19 L665.28,356.19 M665.28,352.19 L661.28,356.19" stroke="#A3A3A3" stroke-width="0.8"/>
<path d="M674.55,355.09 L678.55,359.09 M678.55,355.09 L674.55,359.09" stroke="#A3A3A3" stroke-width="0.8"/>
<path d="M687.82,370.42 L691.82,374.42 M691.82,370.42 L687.82,374.42" stroke="#A3A3A3" stroke-width="0.8"/>
<path d="M701.09,361.97 L705.09,365.97 M705.09,361.97 L701.09,365.97" stroke="#A3A3A3" stroke-width="0.8"/>
<path d="M714.36,359.9 L718.36,363.9 M718.36,359.9 L714.36,363.9" stroke="#A3A3A3" stroke-width="0.8"/>
<path d="M543.85,429.6 L557.12,429.6 L570.39,429.6 L583.66,394.21 L596.93,390.82 L610.2,399.52 L623.47,362.89 L636.74,351.29 L650.01,353.44 L663.28,356.34 L676.55,357.75 L689.82,360.74 L703.09,346.4 L716.36,341.76" fill="none" stroke="#A3A3A3" stroke-width="1.5" stroke-linejoin="round"/>
<circle cx="543.85" cy="429.6" r="1.8" fill="#A3A3A3"/>
<circle cx="557.12" cy="429.6" r="1.8" fill="#A3A3A3"/>
<circle cx="570.39" cy="429.6" r="1.8" fill="#A3A3A3"/>
<circle cx="583.66" cy="394.21" r="1.8" fill="#A3A3A3"/>
<circle cx="596.93" cy="390.82" r="1.8" fill="#A3A3A3"/>
<circle cx="610.2" cy="399.52" r="1.8" fill="#A3A3A3"/>
<circle cx="623.47" cy="362.89" r="1.8" fill="#A3A3A3"/>
<circle cx="636.74" cy="351.29" r="1.8" fill="#A3A3A3"/>
<circle cx="650.01" cy="353.44" r="1.8" fill="#A3A3A3"/>
<circle cx="663.28" cy="356.34" r="1.8" fill="#A3A3A3"/>
<circle cx="676.55" cy="357.75" r="1.8" fill="#A3A3A3"/>
<circle cx="689.82" cy="360.74" r="1.8" fill="#A3A3A3"/>
<circle cx="703.09" cy="346.4" r="1.8" fill="#A3A3A3"/>
<circle cx="716.36" cy="341.76" r="1.8" fill="#A3A3A3"/>
<path d="M543.85,429.6 L557.12,429.6 L570.39,429.6 L583.66,412.53 L596.93,398.11 L610.2,395.21 L623.47,363.64 L636.74,353.36 L650.01,358.58 L663.28,364.38 L676.55,368.28 L689.82,361.9 L703.09,355.51 L716.36,353.11" fill="none" stroke="#A3A3A3" stroke-width="1.5" stroke-linejoin="round"/>
<path d="M541.65,429.6 L546.05,429.6 M543.85,427.4 L543.85,431.8" stroke="#A3A3A3" stroke-width="0.8"/>
<path d="M554.92,429.6 L559.32,429.6 M557.12,427.4 L557.12,431.8" stroke="#A3A3A3" stroke-width="0.8"/>
<path d="M568.19,429.6 L572.59,429.6 M570.39,427.4 L570.39,431.8" stroke="#A3A3A3" stroke-width="0.8"/>
<path d="M581.46,412.53 L585.86,412.53 M583.66,410.33 L583.66,414.73" stroke="#A3A3A3" stroke-width="0.8"/>
<path d="M594.73,398.11 L599.13,398.11 M596.93,395.91 L596.93,400.31" stroke="#A3A3A3" stroke-width="0.8"/>
<path d="M608,395.21 L612.4,395.21 M610.2,393.01 L610.2,397.41" stroke="#A3A3A3" stroke-width="0.8"/>
<path d="M621.27,363.64 L625.67,363.64 M623.47,361.44 L623.47,365.84" stroke="#A3A3A3" stroke-width="0.8"/>
<path d="M634.54,353.36 L638.94,353.36 M636.74,351.16 L636.74,355.56" stroke="#A3A3A3" stroke-width="0.8"/>
<path d="M647.81,358.58 L652.21,358.58 M650.01,356.38 L650.01,360.78" stroke="#A3A3A3" stroke-width="0.8"/>
<path d="M661.08,364.38 L665.48,364.38 M663.28,362.18 L663.28,366.58" stroke="#A3A3A3" stroke-width="0.8"/>
<path d="M674.35,368.28 L678.75,368.28 M676.55,366.08 L676.55,370.48" stroke="#A3A3A3" stroke-width="0.8"/>
<path d="M687.62,361.9 L692.02,361.9 M689.82,359.7 L689.82,364.1" stroke="#A3A3A3" stroke-width="0.8"/>
<path d="M700.89,355.51 L705.29,355.51 M703.09,353.31 L703.09,357.71" stroke="#A3A3A3" stroke-width="0.8"/>
<path d="M714.16,353.11 L718.56,353.11 M716.36,350.91 L716.36,355.31" stroke="#A3A3A3" stroke-width="0.8"/>
<text x="0" y="0" font-size="11.8" text-anchor="middle" fill="#000" transform="translate(14.4,348.5) rotate(-90)">log AUC</text>
<text x="0" y="0" font-size="11.8" text-anchor="middle" fill="#000" transform="translate(29,347.6) rotate(-90)">to gp120<tspan font-size="8.2" dy="2.6">CH505TF</tspan></text>
<text x="3" y="455.2" font-size="15.5" font-weight="bold" text-anchor="start" fill="#000" >C</text>
<line x1="58.3" y1="465.2" x2="58.3" y2="596" stroke="#8c8c8c" stroke-width="1.1" stroke-dasharray="1 1.95"/>
<line x1="72.3" y1="465.2" x2="72.3" y2="596" stroke="#B98342" stroke-width="1.1" stroke-dasharray="1 1.95"/>
<line x1="137.4" y1="465.2" x2="137.4" y2="596" stroke="#8c8c8c" stroke-width="1.1" stroke-dasharray="1 1.95"/>
<line x1="142.3" y1="465.2" x2="142.3" y2="596" stroke="#B98342" stroke-width="1.1" stroke-dasharray="1 1.95"/>
<line x1="206.6" y1="465.2" x2="206.6" y2="596" stroke="#8c8c8c" stroke-width="1.1" stroke-dasharray="1 1.95"/>
<line x1="212.3" y1="465.2" x2="212.3" y2="596" stroke="#B98342" stroke-width="1.1" stroke-dasharray="1 1.95"/>
<line x1="51.4" y1="463.5" x2="51.4" y2="597.3" stroke="#222" stroke-width="1.6" />
<line x1="49.2" y1="596.5" x2="51.4" y2="596.5" stroke="#222" stroke-width="1.2" />
<text x="48.1" y="599.8" font-size="9.2" text-anchor="end" fill="#222" >0</text>
<line x1="49.2" y1="570.02" x2="51.4" y2="570.02" stroke="#222" stroke-width="1.2" />
<text x="48.1" y="573.32" font-size="9.2" text-anchor="end" fill="#222" >20</text>
<line x1="49.2" y1="543.54" x2="51.4" y2="543.54" stroke="#222" stroke-width="1.2" />
<text x="48.1" y="546.84" font-size="9.2" text-anchor="end" fill="#222" >40</text>
<line x1="49.2" y1="517.06" x2="51.4" y2="517.06" stroke="#222" stroke-width="1.2" />
<text x="48.1" y="520.36" font-size="9.2" text-anchor="end" fill="#222" >60</text>
<line x1="49.2" y1="490.58" x2="51.4" y2="490.58" stroke="#222" stroke-width="1.2" />
<text x="48.1" y="493.88" font-size="9.2" text-anchor="end" fill="#222" >80</text>
<line x1="49.2" y1="464.1" x2="51.4" y2="464.1" stroke="#222" stroke-width="1.2" />
<text x="48.1" y="467.4" font-size="9.2" text-anchor="end" fill="#222" >100</text>
<line x1="50.6" y1="596.5" x2="247.2" y2="596.5" stroke="#222" stroke-width="1.6" />
<line x1="58.3" y1="596.5" x2="58.3" y2="598.8" stroke="#222" stroke-width="1.1" />
<text x="58.3" y="605.6" font-size="6.9" text-anchor="middle" fill="#222" >0</text>
<line x1="72.3" y1="596.5" x2="72.3" y2="598.8" stroke="#222" stroke-width="1.1" />
<text x="72.3" y="605.6" font-size="6.9" text-anchor="middle" fill="#222" >5</text>
<line x1="86.3" y1="596.5" x2="86.3" y2="598.8" stroke="#222" stroke-width="1.1" />
<text x="86.3" y="605.6" font-size="6.9" text-anchor="middle" fill="#222" >7</text>
<line x1="100.3" y1="596.5" x2="100.3" y2="598.8" stroke="#222" stroke-width="1.1" />
<text x="100.3" y="605.6" font-size="6.9" text-anchor="middle" fill="#222" >12</text>
<line x1="114.3" y1="596.5" x2="114.3" y2="598.8" stroke="#222" stroke-width="1.1" />
<text x="114.3" y="605.6" font-size="6.9" text-anchor="middle" fill="#222" >19</text>
<line x1="128.3" y1="596.5" x2="128.3" y2="598.8" stroke="#222" stroke-width="1.1" />
<text x="128.3" y="605.6" font-size="6.9" text-anchor="middle" fill="#222" >26</text>
<line x1="142.3" y1="596.5" x2="142.3" y2="598.8" stroke="#222" stroke-width="1.1" />
<text x="142.3" y="605.6" font-size="6.9" text-anchor="middle" fill="#222" >61</text>
<line x1="156.3" y1="596.5" x2="156.3" y2="598.8" stroke="#222" stroke-width="1.1" />
<text x="156.3" y="605.6" font-size="6.9" text-anchor="middle" fill="#222" >63</text>
<line x1="170.3" y1="596.5" x2="170.3" y2="598.8" stroke="#222" stroke-width="1.1" />
<text x="170.3" y="605.6" font-size="6.9" text-anchor="middle" fill="#222" >69</text>
<line x1="184.3" y1="596.5" x2="184.3" y2="598.8" stroke="#222" stroke-width="1.1" />
<text x="184.3" y="605.6" font-size="6.9" text-anchor="middle" fill="#222" >75</text>
<line x1="198.3" y1="596.5" x2="198.3" y2="598.8" stroke="#222" stroke-width="1.1" />
<text x="198.3" y="605.6" font-size="6.9" text-anchor="middle" fill="#222" >82</text>
<line x1="212.3" y1="596.5" x2="212.3" y2="598.8" stroke="#222" stroke-width="1.1" />
<text x="212.3" y="605.6" font-size="6.9" text-anchor="middle" fill="#222" >117</text>
<line x1="226.3" y1="596.5" x2="226.3" y2="598.8" stroke="#222" stroke-width="1.1" />
<text x="226.3" y="605.6" font-size="6.9" text-anchor="middle" fill="#222" >119</text>
<line x1="240.3" y1="596.5" x2="240.3" y2="598.8" stroke="#222" stroke-width="1.1" />
<text x="240.3" y="605.6" font-size="6.9" text-anchor="middle" fill="#222" >124</text>
<line x1="289.6" y1="465.2" x2="289.6" y2="596" stroke="#8c8c8c" stroke-width="1.1" stroke-dasharray="1 1.95"/>
<line x1="303.57" y1="465.2" x2="303.57" y2="596" stroke="#B98342" stroke-width="1.1" stroke-dasharray="1 1.95"/>
<line x1="368.52" y1="465.2" x2="368.52" y2="596" stroke="#8c8c8c" stroke-width="1.1" stroke-dasharray="1 1.95"/>
<line x1="373.42" y1="465.2" x2="373.42" y2="596" stroke="#B98342" stroke-width="1.1" stroke-dasharray="1 1.95"/>
<line x1="437.57" y1="465.2" x2="437.57" y2="596" stroke="#8c8c8c" stroke-width="1.1" stroke-dasharray="1 1.95"/>
<line x1="443.27" y1="465.2" x2="443.27" y2="596" stroke="#B98342" stroke-width="1.1" stroke-dasharray="1 1.95"/>
<line x1="282.7" y1="463.5" x2="282.7" y2="597.3" stroke="#222" stroke-width="1.6" />
<line x1="280.5" y1="596.5" x2="282.7" y2="596.5" stroke="#222" stroke-width="1.2" />
<text x="279.4" y="599.8" font-size="9.2" text-anchor="end" fill="#222" >0</text>
<line x1="280.5" y1="570.02" x2="282.7" y2="570.02" stroke="#222" stroke-width="1.2" />
<text x="279.4" y="573.32" font-size="9.2" text-anchor="end" fill="#222" >20</text>
<line x1="280.5" y1="543.54" x2="282.7" y2="543.54" stroke="#222" stroke-width="1.2" />
<text x="279.4" y="546.84" font-size="9.2" text-anchor="end" fill="#222" >40</text>
<line x1="280.5" y1="517.06" x2="282.7" y2="517.06" stroke="#222" stroke-width="1.2" />
<text x="279.4" y="520.36" font-size="9.2" text-anchor="end" fill="#222" >60</text>
<line x1="280.5" y1="490.58" x2="282.7" y2="490.58" stroke="#222" stroke-width="1.2" />
<text x="279.4" y="493.88" font-size="9.2" text-anchor="end" fill="#222" >80</text>
<line x1="280.5" y1="464.1" x2="282.7" y2="464.1" stroke="#222" stroke-width="1.2" />
<text x="279.4" y="467.4" font-size="9.2" text-anchor="end" fill="#222" >100</text>
<line x1="281.9" y1="596.5" x2="477.6" y2="596.5" stroke="#222" stroke-width="1.6" />
<line x1="289.6" y1="596.5" x2="289.6" y2="598.8" stroke="#222" stroke-width="1.1" />
<text x="289.6" y="605.6" font-size="6.9" text-anchor="middle" fill="#222" >0</text>
<line x1="303.57" y1="596.5" x2="303.57" y2="598.8" stroke="#222" stroke-width="1.1" />
<text x="303.57" y="605.6" font-size="6.9" text-anchor="middle" fill="#222" >5</text>
<line x1="317.54" y1="596.5" x2="317.54" y2="598.8" stroke="#222" stroke-width="1.1" />
<text x="317.54" y="605.6" font-size="6.9" text-anchor="middle" fill="#222" >7</text>
<line x1="331.51" y1="596.5" x2="331.51" y2="598.8" stroke="#222" stroke-width="1.1" />
<text x="331.51" y="605.6" font-size="6.9" text-anchor="middle" fill="#222" >12</text>
<line x1="345.48" y1="596.5" x2="345.48" y2="598.8" stroke="#222" stroke-width="1.1" />
<text x="345.48" y="605.6" font-size="6.9" text-anchor="middle" fill="#222" >19</text>
<line x1="359.45" y1="596.5" x2="359.45" y2="598.8" stroke="#222" stroke-width="1.1" />
<text x="359.45" y="605.6" font-size="6.9" text-anchor="middle" fill="#222" >26</text>
<line x1="373.42" y1="596.5" x2="373.42" y2="598.8" stroke="#222" stroke-width="1.1" />
<text x="373.42" y="605.6" font-size="6.9" text-anchor="middle" fill="#222" >61</text>
<line x1="387.39" y1="596.5" x2="387.39" y2="598.8" stroke="#222" stroke-width="1.1" />
<text x="387.39" y="605.6" font-size="6.9" text-anchor="middle" fill="#222" >63</text>
<line x1="401.36" y1="596.5" x2="401.36" y2="598.8" stroke="#222" stroke-width="1.1" />
<text x="401.36" y="605.6" font-size="6.9" text-anchor="middle" fill="#222" >69</text>
<line x1="415.33" y1="596.5" x2="415.33" y2="598.8" stroke="#222" stroke-width="1.1" />
<text x="415.33" y="605.6" font-size="6.9" text-anchor="middle" fill="#222" >75</text>
<line x1="429.3" y1="596.5" x2="429.3" y2="598.8" stroke="#222" stroke-width="1.1" />
<text x="429.3" y="605.6" font-size="6.9" text-anchor="middle" fill="#222" >82</text>
<line x1="443.27" y1="596.5" x2="443.27" y2="598.8" stroke="#222" stroke-width="1.1" />
<text x="443.27" y="605.6" font-size="6.9" text-anchor="middle" fill="#222" >117</text>
<line x1="457.24" y1="596.5" x2="457.24" y2="598.8" stroke="#222" stroke-width="1.1" />
<text x="457.24" y="605.6" font-size="6.9" text-anchor="middle" fill="#222" >119</text>
<line x1="471.21" y1="596.5" x2="471.21" y2="598.8" stroke="#222" stroke-width="1.1" />
<text x="471.21" y="605.6" font-size="6.9" text-anchor="middle" fill="#222" >124</text>
<line x1="534.5" y1="465.2" x2="534.5" y2="596" stroke="#8c8c8c" stroke-width="1.1" stroke-dasharray="1 1.95"/>
<line x1="548.46" y1="465.2" x2="548.46" y2="596" stroke="#B98342" stroke-width="1.1" stroke-dasharray="1 1.95"/>
<line x1="613.36" y1="465.2" x2="613.36" y2="596" stroke="#8c8c8c" stroke-width="1.1" stroke-dasharray="1 1.95"/>
<line x1="618.26" y1="465.2" x2="618.26" y2="596" stroke="#B98342" stroke-width="1.1" stroke-dasharray="1 1.95"/>
<line x1="682.36" y1="465.2" x2="682.36" y2="596" stroke="#8c8c8c" stroke-width="1.1" stroke-dasharray="1 1.95"/>
<line x1="688.06" y1="465.2" x2="688.06" y2="596" stroke="#B98342" stroke-width="1.1" stroke-dasharray="1 1.95"/>
<line x1="527.7" y1="463.5" x2="527.7" y2="597.3" stroke="#222" stroke-width="1.6" />
<line x1="525.5" y1="596.5" x2="527.7" y2="596.5" stroke="#222" stroke-width="1.2" />
<text x="524.4" y="599.8" font-size="9.2" text-anchor="end" fill="#222" >0</text>
<line x1="525.5" y1="570.02" x2="527.7" y2="570.02" stroke="#222" stroke-width="1.2" />
<text x="524.4" y="573.32" font-size="9.2" text-anchor="end" fill="#222" >20</text>
<line x1="525.5" y1="543.54" x2="527.7" y2="543.54" stroke="#222" stroke-width="1.2" />
<text x="524.4" y="546.84" font-size="9.2" text-anchor="end" fill="#222" >40</text>
<line x1="525.5" y1="517.06" x2="527.7" y2="517.06" stroke="#222" stroke-width="1.2" />
<text x="524.4" y="520.36" font-size="9.2" text-anchor="end" fill="#222" >60</text>
<line x1="525.5" y1="490.58" x2="527.7" y2="490.58" stroke="#222" stroke-width="1.2" />
<text x="524.4" y="493.88" font-size="9.2" text-anchor="end" fill="#222" >80</text>
<line x1="525.5" y1="464.1" x2="527.7" y2="464.1" stroke="#222" stroke-width="1.2" />
<text x="524.4" y="467.4" font-size="9.2" text-anchor="end" fill="#222" >100</text>
<line x1="526.9" y1="596.5" x2="724" y2="596.5" stroke="#222" stroke-width="1.6" />
<line x1="534.5" y1="596.5" x2="534.5" y2="598.8" stroke="#222" stroke-width="1.1" />
<text x="534.5" y="605.6" font-size="6.9" text-anchor="middle" fill="#222" >0</text>
<line x1="548.46" y1="596.5" x2="548.46" y2="598.8" stroke="#222" stroke-width="1.1" />
<text x="548.46" y="605.6" font-size="6.9" text-anchor="middle" fill="#222" >5</text>
<line x1="562.42" y1="596.5" x2="562.42" y2="598.8" stroke="#222" stroke-width="1.1" />
<text x="562.42" y="605.6" font-size="6.9" text-anchor="middle" fill="#222" >7</text>
<line x1="576.38" y1="596.5" x2="576.38" y2="598.8" stroke="#222" stroke-width="1.1" />
<text x="576.38" y="605.6" font-size="6.9" text-anchor="middle" fill="#222" >12</text>
<line x1="590.34" y1="596.5" x2="590.34" y2="598.8" stroke="#222" stroke-width="1.1" />
<text x="590.34" y="605.6" font-size="6.9" text-anchor="middle" fill="#222" >19</text>
<line x1="604.3" y1="596.5" x2="604.3" y2="598.8" stroke="#222" stroke-width="1.1" />
<text x="604.3" y="605.6" font-size="6.9" text-anchor="middle" fill="#222" >26</text>
<line x1="618.26" y1="596.5" x2="618.26" y2="598.8" stroke="#222" stroke-width="1.1" />
<text x="618.26" y="605.6" font-size="6.9" text-anchor="middle" fill="#222" >61</text>
<line x1="632.22" y1="596.5" x2="632.22" y2="598.8" stroke="#222" stroke-width="1.1" />
<text x="632.22" y="605.6" font-size="6.9" text-anchor="middle" fill="#222" >63</text>
<line x1="646.18" y1="596.5" x2="646.18" y2="598.8" stroke="#222" stroke-width="1.1" />
<text x="646.18" y="605.6" font-size="6.9" text-anchor="middle" fill="#222" >69</text>
<line x1="660.14" y1="596.5" x2="660.14" y2="598.8" stroke="#222" stroke-width="1.1" />
<text x="660.14" y="605.6" font-size="6.9" text-anchor="middle" fill="#222" >75</text>
<line x1="674.1" y1="596.5" x2="674.1" y2="598.8" stroke="#222" stroke-width="1.1" />
<text x="674.1" y="605.6" font-size="6.9" text-anchor="middle" fill="#222" >82</text>
<line x1="688.06" y1="596.5" x2="688.06" y2="598.8" stroke="#222" stroke-width="1.1" />
<text x="688.06" y="605.6" font-size="6.9" text-anchor="middle" fill="#222" >117</text>
<line x1="702.02" y1="596.5" x2="702.02" y2="598.8" stroke="#222" stroke-width="1.1" />
<text x="702.02" y="605.6" font-size="6.9" text-anchor="middle" fill="#222" >119</text>
<line x1="715.98" y1="596.5" x2="715.98" y2="598.8" stroke="#222" stroke-width="1.1" />
<text x="715.98" y="605.6" font-size="6.9" text-anchor="middle" fill="#222" >124</text>
<line x1="58.3" y1="591.34" x2="58.3" y2="596.5" stroke="#5BA3F7" stroke-width="1.0" />
<line x1="56.7" y1="591.34" x2="59.9" y2="591.34" stroke="#5BA3F7" stroke-width="1.0" />
<line x1="142.3" y1="584.72" x2="142.3" y2="592.66" stroke="#5BA3F7" stroke-width="1.0" />
<line x1="140.7" y1="584.72" x2="143.9" y2="584.72" stroke="#5BA3F7" stroke-width="1.0" />
<line x1="140.7" y1="592.66" x2="143.9" y2="592.66" stroke="#5BA3F7" stroke-width="1.0" />
<line x1="156.3" y1="559.3" x2="156.3" y2="565.92" stroke="#5BA3F7" stroke-width="1.0" />
<line x1="154.7" y1="559.3" x2="157.9" y2="559.3" stroke="#5BA3F7" stroke-width="1.0" />
<line x1="154.7" y1="565.92" x2="157.9" y2="565.92" stroke="#5BA3F7" stroke-width="1.0" />
<line x1="184.3" y1="552.54" x2="184.3" y2="563.14" stroke="#5BA3F7" stroke-width="1.0" />
<line x1="182.7" y1="552.54" x2="185.9" y2="552.54" stroke="#5BA3F7" stroke-width="1.0" />
<line x1="182.7" y1="563.14" x2="185.9" y2="563.14" stroke="#5BA3F7" stroke-width="1.0" />
<line x1="198.3" y1="565.65" x2="198.3" y2="578.89" stroke="#5BA3F7" stroke-width="1.0" />
<line x1="196.7" y1="565.65" x2="199.9" y2="565.65" stroke="#5BA3F7" stroke-width="1.0" />
<line x1="196.7" y1="578.89" x2="199.9" y2="578.89" stroke="#5BA3F7" stroke-width="1.0" />
<line x1="212.3" y1="551.09" x2="212.3" y2="559.03" stroke="#5BA3F7" stroke-width="1.0" />
<line x1="210.7" y1="551.09" x2="213.9" y2="551.09" stroke="#5BA3F7" stroke-width="1.0" />
<line x1="210.7" y1="559.03" x2="213.9" y2="559.03" stroke="#5BA3F7" stroke-width="1.0" />
<line x1="226.3" y1="537.85" x2="226.3" y2="545.79" stroke="#5BA3F7" stroke-width="1.0" />
<line x1="224.7" y1="537.85" x2="227.9" y2="537.85" stroke="#5BA3F7" stroke-width="1.0" />
<line x1="224.7" y1="545.79" x2="227.9" y2="545.79" stroke="#5BA3F7" stroke-width="1.0" />
<path d="M58.3,593.98 L72.3,596.5 L86.3,595.71 L100.3,591.47 L114.3,595.97 L128.3,593.72 L142.3,588.69 L156.3,562.61 L170.3,570.02 L184.3,557.84 L198.3,572.27 L212.3,555.06 L226.3,541.82 L240.3,530.56" fill="none" stroke="#5BA3F7" stroke-width="1.6" stroke-linejoin="round"/>
<circle cx="58.3" cy="593.98" r="2.3" fill="none" stroke="#5BA3F7" stroke-width="0.9"/>
<circle cx="72.3" cy="596.5" r="2.3" fill="none" stroke="#5BA3F7" stroke-width="0.9"/>
<circle cx="86.3" cy="595.71" r="2.3" fill="none" stroke="#5BA3F7" stroke-width="0.9"/>
<circle cx="100.3" cy="591.47" r="2.3" fill="none" stroke="#5BA3F7" stroke-width="0.9"/>
<circle cx="114.3" cy="595.97" r="2.3" fill="none" stroke="#5BA3F7" stroke-width="0.9"/>
<circle cx="128.3" cy="593.72" r="2.3" fill="none" stroke="#5BA3F7" stroke-width="0.9"/>
<circle cx="142.3" cy="588.69" r="2.3" fill="none" stroke="#5BA3F7" stroke-width="0.9"/>
<circle cx="156.3" cy="562.61" r="2.3" fill="none" stroke="#5BA3F7" stroke-width="0.9"/>
<circle cx="170.3" cy="570.02" r="2.3" fill="none" stroke="#5BA3F7" stroke-width="0.9"/>
<circle cx="184.3" cy="557.84" r="2.3" fill="none" stroke="#5BA3F7" stroke-width="0.9"/>
<circle cx="198.3" cy="572.27" r="2.3" fill="none" stroke="#5BA3F7" stroke-width="0.9"/>
<circle cx="212.3" cy="555.06" r="2.3" fill="none" stroke="#5BA3F7" stroke-width="0.9"/>
<circle cx="226.3" cy="541.82" r="2.3" fill="none" stroke="#5BA3F7" stroke-width="0.9"/>
<circle cx="240.3" cy="530.56" r="2.3" fill="none" stroke="#5BA3F7" stroke-width="0.9"/>
<line x1="72.3" y1="591.2" x2="72.3" y2="596.5" stroke="#3DE0A2" stroke-width="1.0" />
<line x1="70.7" y1="591.2" x2="73.9" y2="591.2" stroke="#3DE0A2" stroke-width="1.0" />
<line x1="100.3" y1="579.29" x2="100.3" y2="587.23" stroke="#3DE0A2" stroke-width="1.0" />
<line x1="98.7" y1="579.29" x2="101.9" y2="579.29" stroke="#3DE0A2" stroke-width="1.0" />
<line x1="98.7" y1="587.23" x2="101.9" y2="587.23" stroke="#3DE0A2" stroke-width="1.0" />
<line x1="114.3" y1="581.54" x2="114.3" y2="589.48" stroke="#3DE0A2" stroke-width="1.0" />
<line x1="112.7" y1="581.54" x2="115.9" y2="581.54" stroke="#3DE0A2" stroke-width="1.0" />
<line x1="112.7" y1="589.48" x2="115.9" y2="589.48" stroke="#3DE0A2" stroke-width="1.0" />
<line x1="170.3" y1="506.73" x2="170.3" y2="514.68" stroke="#3DE0A2" stroke-width="1.0" />
<line x1="168.7" y1="506.73" x2="171.9" y2="506.73" stroke="#3DE0A2" stroke-width="1.0" />
<line x1="168.7" y1="514.68" x2="171.9" y2="514.68" stroke="#3DE0A2" stroke-width="1.0" />
<line x1="184.3" y1="530.56" x2="184.3" y2="537.18" stroke="#3DE0A2" stroke-width="1.0" />
<line x1="182.7" y1="530.56" x2="185.9" y2="530.56" stroke="#3DE0A2" stroke-width="1.0" />
<line x1="182.7" y1="537.18" x2="185.9" y2="537.18" stroke="#3DE0A2" stroke-width="1.0" />
<line x1="198.3" y1="544.86" x2="198.3" y2="552.81" stroke="#3DE0A2" stroke-width="1.0" />
<line x1="196.7" y1="544.86" x2="199.9" y2="544.86" stroke="#3DE0A2" stroke-width="1.0" />
<line x1="196.7" y1="552.81" x2="199.9" y2="552.81" stroke="#3DE0A2" stroke-width="1.0" />
<line x1="212.3" y1="527.39" x2="212.3" y2="548.57" stroke="#3DE0A2" stroke-width="1.0" />
<line x1="210.7" y1="527.39" x2="213.9" y2="527.39" stroke="#3DE0A2" stroke-width="1.0" />
<line x1="210.7" y1="548.57" x2="213.9" y2="548.57" stroke="#3DE0A2" stroke-width="1.0" />
<path d="M58.3,596.5 L72.3,595.18 L86.3,596.5 L100.3,583.26 L114.3,585.51 L128.3,595.97 L142.3,560.88 L156.3,510.7 L170.3,510.7 L184.3,533.87 L198.3,548.84 L212.3,537.98 L226.3,506.87 L240.3,510.44" fill="none" stroke="#3DE0A2" stroke-width="1.6" stroke-linejoin="round"/>
<circle cx="58.3" cy="596.5" r="2.4" fill="#3DE0A2"/>
<circle cx="72.3" cy="595.18" r="2.4" fill="#3DE0A2"/>
<circle cx="86.3" cy="596.5" r="2.4" fill="#3DE0A2"/>
<circle cx="100.3" cy="583.26" r="2.4" fill="#3DE0A2"/>
<circle cx="114.3" cy="585.51" r="2.4" fill="#3DE0A2"/>
<circle cx="128.3" cy="595.97" r="2.4" fill="#3DE0A2"/>
<circle cx="142.3" cy="560.88" r="2.4" fill="#3DE0A2"/>
<circle cx="156.3" cy="510.7" r="2.4" fill="#3DE0A2"/>
<circle cx="170.3" cy="510.7" r="2.4" fill="#3DE0A2"/>
<circle cx="184.3" cy="533.87" r="2.4" fill="#3DE0A2"/>
<circle cx="198.3" cy="548.84" r="2.4" fill="#3DE0A2"/>
<circle cx="212.3" cy="537.98" r="2.4" fill="#3DE0A2"/>
<circle cx="226.3" cy="506.87" r="2.4" fill="#3DE0A2"/>
<circle cx="240.3" cy="510.44" r="2.4" fill="#3DE0A2"/>
<line x1="114.3" y1="589.09" x2="114.3" y2="596.5" stroke="#1A1AEE" stroke-width="1.0" />
<line x1="112.7" y1="589.09" x2="115.9" y2="589.09" stroke="#1A1AEE" stroke-width="1.0" />
<line x1="128.3" y1="587.63" x2="128.3" y2="596.5" stroke="#1A1AEE" stroke-width="1.0" />
<line x1="126.7" y1="587.63" x2="129.9" y2="587.63" stroke="#1A1AEE" stroke-width="1.0" />
<line x1="142.3" y1="546.45" x2="142.3" y2="554.4" stroke="#1A1AEE" stroke-width="1.0" />
<line x1="140.7" y1="546.45" x2="143.9" y2="546.45" stroke="#1A1AEE" stroke-width="1.0" />
<line x1="140.7" y1="554.4" x2="143.9" y2="554.4" stroke="#1A1AEE" stroke-width="1.0" />
<line x1="198.3" y1="516" x2="198.3" y2="522.62" stroke="#1A1AEE" stroke-width="1.0" />
<line x1="196.7" y1="516" x2="199.9" y2="516" stroke="#1A1AEE" stroke-width="1.0" />
<line x1="196.7" y1="522.62" x2="199.9" y2="522.62" stroke="#1A1AEE" stroke-width="1.0" />
<line x1="212.3" y1="521.03" x2="212.3" y2="528.98" stroke="#1A1AEE" stroke-width="1.0" />
<line x1="210.7" y1="521.03" x2="213.9" y2="521.03" stroke="#1A1AEE" stroke-width="1.0" />
<line x1="210.7" y1="528.98" x2="213.9" y2="528.98" stroke="#1A1AEE" stroke-width="1.0" />
<path d="M58.3,596.5 L72.3,596.5 L86.3,595.84 L100.3,596.5 L114.3,595.71 L128.3,594.25 L142.3,550.42 L156.3,497.99 L170.3,493.89 L184.3,501.17 L198.3,519.31 L212.3,525 L226.3,500.25 L240.3,480.65" fill="none" stroke="#1A1AEE" stroke-width="1.6" stroke-linejoin="round"/>
<circle cx="58.3" cy="596.5" r="2.3" fill="none" stroke="#1A1AEE" stroke-width="0.9"/>
<circle cx="72.3" cy="596.5" r="2.3" fill="none" stroke="#1A1AEE" stroke-width="0.9"/>
<circle cx="86.3" cy="595.84" r="2.3" fill="none" stroke="#1A1AEE" stroke-width="0.9"/>
<circle cx="100.3" cy="596.5" r="2.3" fill="none" stroke="#1A1AEE" stroke-width="0.9"/>
<circle cx="114.3" cy="595.71" r="2.3" fill="none" stroke="#1A1AEE" stroke-width="0.9"/>
<circle cx="128.3" cy="594.25" r="2.3" fill="none" stroke="#1A1AEE" stroke-width="0.9"/>
<circle cx="142.3" cy="550.42" r="2.3" fill="none" stroke="#1A1AEE" stroke-width="0.9"/>
<circle cx="156.3" cy="497.99" r="2.3" fill="none" stroke="#1A1AEE" stroke-width="0.9"/>
<circle cx="170.3" cy="493.89" r="2.3" fill="none" stroke="#1A1AEE" stroke-width="0.9"/>
<circle cx="184.3" cy="501.17" r="2.3" fill="none" stroke="#1A1AEE" stroke-width="0.9"/>
<circle cx="198.3" cy="519.31" r="2.3" fill="none" stroke="#1A1AEE" stroke-width="0.9"/>
<circle cx="212.3" cy="525" r="2.3" fill="none" stroke="#1A1AEE" stroke-width="0.9"/>
<circle cx="226.3" cy="500.25" r="2.3" fill="none" stroke="#1A1AEE" stroke-width="0.9"/>
<circle cx="240.3" cy="480.65" r="2.3" fill="none" stroke="#1A1AEE" stroke-width="0.9"/>
<line x1="359.45" y1="575.71" x2="359.45" y2="586.31" stroke="#F98A8A" stroke-width="1.0" />
<line x1="357.85" y1="575.71" x2="361.05" y2="575.71" stroke="#F98A8A" stroke-width="1.0" />
<line x1="357.85" y1="586.31" x2="361.05" y2="586.31" stroke="#F98A8A" stroke-width="1.0" />
<line x1="401.36" y1="533.35" x2="401.36" y2="538.64" stroke="#F98A8A" stroke-width="1.0" />
<line x1="399.76" y1="533.35" x2="402.96" y2="533.35" stroke="#F98A8A" stroke-width="1.0" />
<line x1="399.76" y1="538.64" x2="402.96" y2="538.64" stroke="#F98A8A" stroke-width="1.0" />
<line x1="429.3" y1="547.64" x2="429.3" y2="555.59" stroke="#F98A8A" stroke-width="1.0" />
<line x1="427.7" y1="547.64" x2="430.9" y2="547.64" stroke="#F98A8A" stroke-width="1.0" />
<line x1="427.7" y1="555.59" x2="430.9" y2="555.59" stroke="#F98A8A" stroke-width="1.0" />
<line x1="443.27" y1="551.48" x2="443.27" y2="562.08" stroke="#F98A8A" stroke-width="1.0" />
<line x1="441.67" y1="551.48" x2="444.87" y2="551.48" stroke="#F98A8A" stroke-width="1.0" />
<line x1="441.67" y1="562.08" x2="444.87" y2="562.08" stroke="#F98A8A" stroke-width="1.0" />
<line x1="471.21" y1="508.59" x2="471.21" y2="516.53" stroke="#F98A8A" stroke-width="1.0" />
<line x1="469.61" y1="508.59" x2="472.81" y2="508.59" stroke="#F98A8A" stroke-width="1.0" />
<line x1="469.61" y1="516.53" x2="472.81" y2="516.53" stroke="#F98A8A" stroke-width="1.0" />
<path d="M289.6,584.45 L303.57,584.45 L317.54,592.4 L331.51,595.84 L345.48,587.89 L359.45,581.01 L373.42,578.49 L387.39,541.82 L401.36,535.99 L415.33,552.28 L429.3,551.62 L443.27,556.78 L457.24,526.99 L471.21,512.56" fill="none" stroke="#F98A8A" stroke-width="1.6" stroke-linejoin="round"/>
<rect x="287.6" y="582.45" width="4" height="4" fill="none" stroke="#F98A8A" stroke-width="0.9"/>
<rect x="301.57" y="582.45" width="4" height="4" fill="none" stroke="#F98A8A" stroke-width="0.9"/>
<rect x="315.54" y="590.4" width="4" height="4" fill="none" stroke="#F98A8A" stroke-width="0.9"/>
<rect x="329.51" y="593.84" width="4" height="4" fill="none" stroke="#F98A8A" stroke-width="0.9"/>
<rect x="343.48" y="585.89" width="4" height="4" fill="none" stroke="#F98A8A" stroke-width="0.9"/>
<rect x="357.45" y="579.01" width="4" height="4" fill="none" stroke="#F98A8A" stroke-width="0.9"/>
<rect x="371.42" y="576.49" width="4" height="4" fill="none" stroke="#F98A8A" stroke-width="0.9"/>
<rect x="385.39" y="539.82" width="4" height="4" fill="none" stroke="#F98A8A" stroke-width="0.9"/>
<rect x="399.36" y="533.99" width="4" height="4" fill="none" stroke="#F98A8A" stroke-width="0.9"/>
<rect x="413.33" y="550.28" width="4" height="4" fill="none" stroke="#F98A8A" stroke-width="0.9"/>
<rect x="427.3" y="549.62" width="4" height="4" fill="none" stroke="#F98A8A" stroke-width="0.9"/>
<rect x="441.27" y="554.78" width="4" height="4" fill="none" stroke="#F98A8A" stroke-width="0.9"/>
<rect x="455.24" y="524.99" width="4" height="4" fill="none" stroke="#F98A8A" stroke-width="0.9"/>
<rect x="469.21" y="510.56" width="4" height="4" fill="none" stroke="#F98A8A" stroke-width="0.9"/>
<line x1="373.42" y1="564.59" x2="373.42" y2="575.18" stroke="#A01E1E" stroke-width="1.0" />
<line x1="371.82" y1="564.59" x2="375.02" y2="564.59" stroke="#A01E1E" stroke-width="1.0" />
<line x1="371.82" y1="575.18" x2="375.02" y2="575.18" stroke="#A01E1E" stroke-width="1.0" />
<line x1="415.33" y1="518.52" x2="415.33" y2="539.7" stroke="#A01E1E" stroke-width="1.0" />
<line x1="413.73" y1="518.52" x2="416.93" y2="518.52" stroke="#A01E1E" stroke-width="1.0" />
<line x1="413.73" y1="539.7" x2="416.93" y2="539.7" stroke="#A01E1E" stroke-width="1.0" />
<line x1="429.3" y1="539.04" x2="429.3" y2="552.28" stroke="#A01E1E" stroke-width="1.0" />
<line x1="427.7" y1="539.04" x2="430.9" y2="539.04" stroke="#A01E1E" stroke-width="1.0" />
<line x1="427.7" y1="552.28" x2="430.9" y2="552.28" stroke="#A01E1E" stroke-width="1.0" />
<path d="M289.6,585.38 L303.57,596.5 L317.54,596.5 L331.51,591.34 L345.48,596.5 L359.45,591.34 L373.42,569.89 L387.39,516 L401.36,510.44 L415.33,529.11 L429.3,545.66 L443.27,518.78 L457.24,486.87 L471.21,473.77" fill="none" stroke="#A01E1E" stroke-width="1.6" stroke-linejoin="round"/>
<rect x="287.6" y="583.38" width="4" height="4" fill="none" stroke="#A01E1E" stroke-width="0.9"/>
<path d="M288,583.78 L291.2,586.98 M291.2,583.78 L288,586.98" stroke="#A01E1E" stroke-width="0.7"/>
<rect x="301.57" y="594.5" width="4" height="4" fill="none" stroke="#A01E1E" stroke-width="0.9"/>
<path d="M301.97,594.9 L305.17,598.1 M305.17,594.9 L301.97,598.1" stroke="#A01E1E" stroke-width="0.7"/>
<rect x="315.54" y="594.5" width="4" height="4" fill="none" stroke="#A01E1E" stroke-width="0.9"/>
<path d="M315.94,594.9 L319.14,598.1 M319.14,594.9 L315.94,598.1" stroke="#A01E1E" stroke-width="0.7"/>
<rect x="329.51" y="589.34" width="4" height="4" fill="none" stroke="#A01E1E" stroke-width="0.9"/>
<path d="M329.91,589.74 L333.11,592.94 M333.11,589.74 L329.91,592.94" stroke="#A01E1E" stroke-width="0.7"/>
<rect x="343.48" y="594.5" width="4" height="4" fill="none" stroke="#A01E1E" stroke-width="0.9"/>
<path d="M343.88,594.9 L347.08,598.1 M347.08,594.9 L343.88,598.1" stroke="#A01E1E" stroke-width="0.7"/>
<rect x="357.45" y="589.34" width="4" height="4" fill="none" stroke="#A01E1E" stroke-width="0.9"/>
<path d="M357.85,589.74 L361.05,592.94 M361.05,589.74 L357.85,592.94" stroke="#A01E1E" stroke-width="0.7"/>
<rect x="371.42" y="567.89" width="4" height="4" fill="none" stroke="#A01E1E" stroke-width="0.9"/>
<path d="M371.82,568.29 L375.02,571.49 M375.02,568.29 L371.82,571.49" stroke="#A01E1E" stroke-width="0.7"/>
<rect x="385.39" y="514" width="4" height="4" fill="none" stroke="#A01E1E" stroke-width="0.9"/>
<path d="M385.79,514.4 L388.99,517.6 M388.99,514.4 L385.79,517.6" stroke="#A01E1E" stroke-width="0.7"/>
<rect x="399.36" y="508.44" width="4" height="4" fill="none" stroke="#A01E1E" stroke-width="0.9"/>
<path d="M399.76,508.84 L402.96,512.04 M402.96,508.84 L399.76,512.04" stroke="#A01E1E" stroke-width="0.7"/>
<rect x="413.33" y="527.11" width="4" height="4" fill="none" stroke="#A01E1E" stroke-width="0.9"/>
<path d="M413.73,527.51 L416.93,530.71 M416.93,527.51 L413.73,530.71" stroke="#A01E1E" stroke-width="0.7"/>
<rect x="427.3" y="543.66" width="4" height="4" fill="none" stroke="#A01E1E" stroke-width="0.9"/>
<path d="M427.7,544.06 L430.9,547.26 M430.9,544.06 L427.7,547.26" stroke="#A01E1E" stroke-width="0.7"/>
<rect x="441.27" y="516.78" width="4" height="4" fill="none" stroke="#A01E1E" stroke-width="0.9"/>
<path d="M441.67,517.18 L444.87,520.38 M444.87,517.18 L441.67,520.38" stroke="#A01E1E" stroke-width="0.7"/>
<rect x="455.24" y="484.87" width="4" height="4" fill="none" stroke="#A01E1E" stroke-width="0.9"/>
<path d="M455.64,485.27 L458.84,488.47 M458.84,485.27 L455.64,488.47" stroke="#A01E1E" stroke-width="0.7"/>
<rect x="469.21" y="471.77" width="4" height="4" fill="none" stroke="#A01E1E" stroke-width="0.9"/>
<path d="M469.61,472.17 L472.81,475.37 M472.81,472.17 L469.61,475.37" stroke="#A01E1E" stroke-width="0.7"/>
<line x1="289.6" y1="591.2" x2="289.6" y2="596.5" stroke="#FF1010" stroke-width="1.0" />
<line x1="288" y1="591.2" x2="291.2" y2="591.2" stroke="#FF1010" stroke-width="1.0" />
<line x1="387.39" y1="504.48" x2="387.39" y2="517.72" stroke="#FF1010" stroke-width="1.0" />
<line x1="385.79" y1="504.48" x2="388.99" y2="504.48" stroke="#FF1010" stroke-width="1.0" />
<line x1="385.79" y1="517.72" x2="388.99" y2="517.72" stroke="#FF1010" stroke-width="1.0" />
<line x1="443.27" y1="528.31" x2="443.27" y2="538.91" stroke="#FF1010" stroke-width="1.0" />
<line x1="441.67" y1="528.31" x2="444.87" y2="528.31" stroke="#FF1010" stroke-width="1.0" />
<line x1="441.67" y1="538.91" x2="444.87" y2="538.91" stroke="#FF1010" stroke-width="1.0" />
<path d="M289.6,596.5 L303.57,592.4 L317.54,596.5 L331.51,594.12 L345.48,583.66 L359.45,592.4 L373.42,583.66 L387.39,511.1 L401.36,493.49 L415.33,500.11 L429.3,509.12 L443.27,533.61 L457.24,505.54 L471.21,491.11" fill="none" stroke="#FF1010" stroke-width="1.6" stroke-linejoin="round"/>
<rect x="287.4" y="594.3" width="4.4" height="4.4" fill="#FF1010"/>
<rect x="301.37" y="590.2" width="4.4" height="4.4" fill="#FF1010"/>
<rect x="315.34" y="594.3" width="4.4" height="4.4" fill="#FF1010"/>
<rect x="329.31" y="591.92" width="4.4" height="4.4" fill="#FF1010"/>
<rect x="343.28" y="581.46" width="4.4" height="4.4" fill="#FF1010"/>
<rect x="357.25" y="590.2" width="4.4" height="4.4" fill="#FF1010"/>
<rect x="371.22" y="581.46" width="4.4" height="4.4" fill="#FF1010"/>
<rect x="385.19" y="508.9" width="4.4" height="4.4" fill="#FF1010"/>
<rect x="399.16" y="491.29" width="4.4" height="4.4" fill="#FF1010"/>
<rect x="413.13" y="497.91" width="4.4" height="4.4" fill="#FF1010"/>
<rect x="427.1" y="506.92" width="4.4" height="4.4" fill="#FF1010"/>
<rect x="441.07" y="531.41" width="4.4" height="4.4" fill="#FF1010"/>
<rect x="455.04" y="503.34" width="4.4" height="4.4" fill="#FF1010"/>
<rect x="469.01" y="488.91" width="4.4" height="4.4" fill="#FF1010"/>
<line x1="660.14" y1="492.7" x2="660.14" y2="497.99" stroke="#A3A3A3" stroke-width="1.0" />
<line x1="658.54" y1="492.7" x2="661.74" y2="492.7" stroke="#A3A3A3" stroke-width="1.0" />
<line x1="658.54" y1="497.99" x2="661.74" y2="497.99" stroke="#A3A3A3" stroke-width="1.0" />
<line x1="674.1" y1="502.5" x2="674.1" y2="510.44" stroke="#A3A3A3" stroke-width="1.0" />
<line x1="672.5" y1="502.5" x2="675.7" y2="502.5" stroke="#A3A3A3" stroke-width="1.0" />
<line x1="672.5" y1="510.44" x2="675.7" y2="510.44" stroke="#A3A3A3" stroke-width="1.0" />
<line x1="688.06" y1="491.51" x2="688.06" y2="512.69" stroke="#A3A3A3" stroke-width="1.0" />
<line x1="686.46" y1="491.51" x2="689.66" y2="491.51" stroke="#A3A3A3" stroke-width="1.0" />
<line x1="686.46" y1="512.69" x2="689.66" y2="512.69" stroke="#A3A3A3" stroke-width="1.0" />
<path d="M534.5,594.78 L548.46,587.89 L562.42,589.62 L576.38,587.23 L590.34,596.5 L604.3,593.06 L618.26,542.22 L632.22,490.45 L646.18,494.68 L660.14,495.35 L674.1,506.47 L688.06,502.1 L702.02,487.4 L715.98,472.71" fill="none" stroke="#A3A3A3" stroke-width="1.5" stroke-linejoin="round"/>
<circle cx="534.5" cy="594.78" r="1.8" fill="#A3A3A3"/>
<circle cx="548.46" cy="587.89" r="1.8" fill="#A3A3A3"/>
<circle cx="562.42" cy="589.62" r="1.8" fill="#A3A3A3"/>
<circle cx="576.38" cy="587.23" r="1.8" fill="#A3A3A3"/>
<circle cx="590.34" cy="596.5" r="1.8" fill="#A3A3A3"/>
<circle cx="604.3" cy="593.06" r="1.8" fill="#A3A3A3"/>
<circle cx="618.26" cy="542.22" r="1.8" fill="#A3A3A3"/>
<circle cx="632.22" cy="490.45" r="1.8" fill="#A3A3A3"/>
<circle cx="646.18" cy="494.68" r="1.8" fill="#A3A3A3"/>
<circle cx="660.14" cy="495.35" r="1.8" fill="#A3A3A3"/>
<circle cx="674.1" cy="506.47" r="1.8" fill="#A3A3A3"/>
<circle cx="688.06" cy="502.1" r="1.8" fill="#A3A3A3"/>
<circle cx="702.02" cy="487.4" r="1.8" fill="#A3A3A3"/>
<circle cx="715.98" cy="472.71" r="1.8" fill="#A3A3A3"/>
<line x1="576.38" y1="572.27" x2="576.38" y2="588.16" stroke="#A3A3A3" stroke-width="1.0" />
<line x1="574.78" y1="572.27" x2="577.98" y2="572.27" stroke="#A3A3A3" stroke-width="1.0" />
<line x1="574.78" y1="588.16" x2="577.98" y2="588.16" stroke="#A3A3A3" stroke-width="1.0" />
<line x1="604.3" y1="573.07" x2="604.3" y2="588.95" stroke="#A3A3A3" stroke-width="1.0" />
<line x1="602.7" y1="573.07" x2="605.9" y2="573.07" stroke="#A3A3A3" stroke-width="1.0" />
<line x1="602.7" y1="588.95" x2="605.9" y2="588.95" stroke="#A3A3A3" stroke-width="1.0" />
<line x1="688.06" y1="545.53" x2="688.06" y2="566.71" stroke="#A3A3A3" stroke-width="1.0" />
<line x1="686.46" y1="545.53" x2="689.66" y2="545.53" stroke="#A3A3A3" stroke-width="1.0" />
<line x1="686.46" y1="566.71" x2="689.66" y2="566.71" stroke="#A3A3A3" stroke-width="1.0" />
<line x1="715.98" y1="528.58" x2="715.98" y2="539.17" stroke="#A3A3A3" stroke-width="1.0" />
<line x1="714.38" y1="528.58" x2="717.58" y2="528.58" stroke="#A3A3A3" stroke-width="1.0" />
<line x1="714.38" y1="539.17" x2="717.58" y2="539.17" stroke="#A3A3A3" stroke-width="1.0" />
<path d="M534.5,594.12 L548.46,587.23 L562.42,587.89 L576.38,580.21 L590.34,595.97 L604.3,581.01 L618.26,547.51 L632.22,501.3 L646.18,507.53 L660.14,506.07 L674.1,524.34 L688.06,556.12 L702.02,541.95 L715.98,533.87" fill="none" stroke="#A3A3A3" stroke-width="1.5" stroke-linejoin="round"/>
<path d="M532.5,592.12 L536.5,596.12 M536.5,592.12 L532.5,596.12" stroke="#A3A3A3" stroke-width="0.8"/>
<path d="M546.46,585.23 L550.46,589.23 M550.46,585.23 L546.46,589.23" stroke="#A3A3A3" stroke-width="0.8"/>
<path d="M560.42,585.89 L564.42,589.89 M564.42,585.89 L560.42,589.89" stroke="#A3A3A3" stroke-width="0.8"/>
<path d="M574.38,578.21 L578.38,582.21 M578.38,578.21 L574.38,582.21" stroke="#A3A3A3" stroke-width="0.8"/>
<path d="M588.34,593.97 L592.34,597.97 M592.34,593.97 L588.34,597.97" stroke="#A3A3A3" stroke-width="0.8"/>
<path d="M602.3,579.01 L606.3,583.01 M606.3,579.01 L602.3,583.01" stroke="#A3A3A3" stroke-width="0.8"/>
<path d="M616.26,545.51 L620.26,549.51 M620.26,545.51 L616.26,549.51" stroke="#A3A3A3" stroke-width="0.8"/>
<path d="M630.22,499.3 L634.22,503.3 M634.22,499.3 L630.22,503.3" stroke="#A3A3A3" stroke-width="0.8"/>
<path d="M644.18,505.53 L648.18,509.53 M648.18,505.53 L644.18,509.53" stroke="#A3A3A3" stroke-width="0.8"/>
<path d="M658.14,504.07 L662.14,508.07 M662.14,504.07 L658.14,508.07" stroke="#A3A3A3" stroke-width="0.8"/>
<path d="M672.1,522.34 L676.1,526.34 M676.1,522.34 L672.1,526.34" stroke="#A3A3A3" stroke-width="0.8"/>
<path d="M686.06,554.12 L690.06,558.12 M690.06,554.12 L686.06,558.12" stroke="#A3A3A3" stroke-width="0.8"/>
<path d="M700.02,539.95 L704.02,543.95 M704.02,539.95 L700.02,543.95" stroke="#A3A3A3" stroke-width="0.8"/>
<path d="M713.98,531.87 L717.98,535.87 M717.98,531.87 L713.98,535.87" stroke="#A3A3A3" stroke-width="0.8"/>
<line x1="534.5" y1="591.87" x2="534.5" y2="596.5" stroke="#A3A3A3" stroke-width="1.0" />
<line x1="532.9" y1="591.87" x2="536.1" y2="591.87" stroke="#A3A3A3" stroke-width="1.0" />
<line x1="618.26" y1="539.57" x2="618.26" y2="550.16" stroke="#A3A3A3" stroke-width="1.0" />
<line x1="616.66" y1="539.57" x2="619.86" y2="539.57" stroke="#A3A3A3" stroke-width="1.0" />
<line x1="616.66" y1="550.16" x2="619.86" y2="550.16" stroke="#A3A3A3" stroke-width="1.0" />
<line x1="674.1" y1="543.8" x2="674.1" y2="551.75" stroke="#A3A3A3" stroke-width="1.0" />
<line x1="672.5" y1="543.8" x2="675.7" y2="543.8" stroke="#A3A3A3" stroke-width="1.0" />
<line x1="672.5" y1="551.75" x2="675.7" y2="551.75" stroke="#A3A3A3" stroke-width="1.0" />
<path d="M534.5,594.51 L548.46,593.45 L562.42,589.88 L576.38,590.54 L590.34,595.97 L604.3,591.73 L618.26,544.86 L632.22,501.7 L646.18,515.87 L660.14,520.63 L674.1,547.78 L688.06,523.15 L702.02,496.54 L715.98,491.37" fill="none" stroke="#A3A3A3" stroke-width="1.5" stroke-linejoin="round"/>
<path d="M532.3,594.51 L536.7,594.51 M534.5,592.31 L534.5,596.71" stroke="#A3A3A3" stroke-width="0.8"/>
<path d="M546.26,593.45 L550.66,593.45 M548.46,591.25 L548.46,595.65" stroke="#A3A3A3" stroke-width="0.8"/>
<path d="M560.22,589.88 L564.62,589.88 M562.42,587.68 L562.42,592.08" stroke="#A3A3A3" stroke-width="0.8"/>
<path d="M574.18,590.54 L578.58,590.54 M576.38,588.34 L576.38,592.74" stroke="#A3A3A3" stroke-width="0.8"/>
<path d="M588.14,595.97 L592.54,595.97 M590.34,593.77 L590.34,598.17" stroke="#A3A3A3" stroke-width="0.8"/>
<path d="M602.1,591.73 L606.5,591.73 M604.3,589.53 L604.3,593.93" stroke="#A3A3A3" stroke-width="0.8"/>
<path d="M616.06,544.86 L620.46,544.86 M618.26,542.66 L618.26,547.06" stroke="#A3A3A3" stroke-width="0.8"/>
<path d="M630.02,501.7 L634.42,501.7 M632.22,499.5 L632.22,503.9" stroke="#A3A3A3" stroke-width="0.8"/>
<path d="M643.98,515.87 L648.38,515.87 M646.18,513.67 L646.18,518.07" stroke="#A3A3A3" stroke-width="0.8"/>
<path d="M657.94,520.63 L662.34,520.63 M660.14,518.43 L660.14,522.83" stroke="#A3A3A3" stroke-width="0.8"/>
<path d="M671.9,547.78 L676.3,547.78 M674.1,545.58 L674.1,549.98" stroke="#A3A3A3" stroke-width="0.8"/>
<path d="M685.86,523.15 L690.26,523.15 M688.06,520.95 L688.06,525.35" stroke="#A3A3A3" stroke-width="0.8"/>
<path d="M699.82,496.54 L704.22,496.54 M702.02,494.34 L702.02,498.74" stroke="#A3A3A3" stroke-width="0.8"/>
<path d="M713.78,491.37 L718.18,491.37 M715.98,489.17 L715.98,493.57" stroke="#A3A3A3" stroke-width="0.8"/>
<text x="0" y="0" font-size="11.8" text-anchor="middle" fill="#000" transform="translate(12.8,526) rotate(-90)">% of blocking CH106</text>
<text x="0" y="0" font-size="11.8" text-anchor="middle" fill="#000" transform="translate(26.6,525.3) rotate(-90)">(gp120<tspan font-size="8.2" dy="2.6">CH505TF</tspan><tspan dy="-2.6">)</tspan></text>
<text x="3" y="618.2" font-size="15.5" font-weight="bold" text-anchor="start" fill="#000" >D</text>
<line x1="60.3" y1="629.5" x2="60.3" y2="760" stroke="#8c8c8c" stroke-width="1.1" stroke-dasharray="1 1.95"/>
<line x1="74.28" y1="629.5" x2="74.28" y2="760" stroke="#B98342" stroke-width="1.1" stroke-dasharray="1 1.95"/>
<line x1="139.28" y1="629.5" x2="139.28" y2="760" stroke="#8c8c8c" stroke-width="1.1" stroke-dasharray="1 1.95"/>
<line x1="144.18" y1="629.5" x2="144.18" y2="760" stroke="#B98342" stroke-width="1.1" stroke-dasharray="1 1.95"/>
<line x1="208.38" y1="629.5" x2="208.38" y2="760" stroke="#8c8c8c" stroke-width="1.1" stroke-dasharray="1 1.95"/>
<line x1="214.08" y1="629.5" x2="214.08" y2="760" stroke="#B98342" stroke-width="1.1" stroke-dasharray="1 1.95"/>
<line x1="53.4" y1="627.8" x2="53.4" y2="761.1" stroke="#222" stroke-width="1.6" />
<line x1="51.2" y1="760.3" x2="53.4" y2="760.3" stroke="#222" stroke-width="1.2" />
<text x="50" y="763.6" font-size="9.2" text-anchor="end" fill="#222" >0</text>
<line x1="51.2" y1="733.94" x2="53.4" y2="733.94" stroke="#222" stroke-width="1.2" />
<text x="50" y="737.24" font-size="9.2" text-anchor="end" fill="#222" >20</text>
<line x1="51.2" y1="707.58" x2="53.4" y2="707.58" stroke="#222" stroke-width="1.2" />
<text x="50" y="710.88" font-size="9.2" text-anchor="end" fill="#222" >40</text>
<line x1="51.2" y1="681.22" x2="53.4" y2="681.22" stroke="#222" stroke-width="1.2" />
<text x="50" y="684.52" font-size="9.2" text-anchor="end" fill="#222" >60</text>
<line x1="51.2" y1="654.86" x2="53.4" y2="654.86" stroke="#222" stroke-width="1.2" />
<text x="50" y="658.16" font-size="9.2" text-anchor="end" fill="#222" >80</text>
<line x1="51.2" y1="628.5" x2="53.4" y2="628.5" stroke="#222" stroke-width="1.2" />
<text x="50" y="631.8" font-size="9.2" text-anchor="end" fill="#222" >100</text>
<line x1="52.6" y1="760.3" x2="247.5" y2="760.3" stroke="#222" stroke-width="1.6" />
<line x1="60.3" y1="760.3" x2="60.3" y2="762.6" stroke="#222" stroke-width="1.1" />
<text x="60.3" y="769.4" font-size="6.9" text-anchor="middle" fill="#222" >0</text>
<line x1="74.28" y1="760.3" x2="74.28" y2="762.6" stroke="#222" stroke-width="1.1" />
<text x="74.28" y="769.4" font-size="6.9" text-anchor="middle" fill="#222" >5</text>
<line x1="88.26" y1="760.3" x2="88.26" y2="762.6" stroke="#222" stroke-width="1.1" />
<text x="88.26" y="769.4" font-size="6.9" text-anchor="middle" fill="#222" >7</text>
<line x1="102.24" y1="760.3" x2="102.24" y2="762.6" stroke="#222" stroke-width="1.1" />
<text x="102.24" y="769.4" font-size="6.9" text-anchor="middle" fill="#222" >12</text>
<line x1="116.22" y1="760.3" x2="116.22" y2="762.6" stroke="#222" stroke-width="1.1" />
<text x="116.22" y="769.4" font-size="6.9" text-anchor="middle" fill="#222" >19</text>
<line x1="130.2" y1="760.3" x2="130.2" y2="762.6" stroke="#222" stroke-width="1.1" />
<text x="130.2" y="769.4" font-size="6.9" text-anchor="middle" fill="#222" >26</text>
<line x1="144.18" y1="760.3" x2="144.18" y2="762.6" stroke="#222" stroke-width="1.1" />
<text x="144.18" y="769.4" font-size="6.9" text-anchor="middle" fill="#222" >61</text>
<line x1="158.16" y1="760.3" x2="158.16" y2="762.6" stroke="#222" stroke-width="1.1" />
<text x="158.16" y="769.4" font-size="6.9" text-anchor="middle" fill="#222" >63</text>
<line x1="172.14" y1="760.3" x2="172.14" y2="762.6" stroke="#222" stroke-width="1.1" />
<text x="172.14" y="769.4" font-size="6.9" text-anchor="middle" fill="#222" >69</text>
<line x1="186.12" y1="760.3" x2="186.12" y2="762.6" stroke="#222" stroke-width="1.1" />
<text x="186.12" y="769.4" font-size="6.9" text-anchor="middle" fill="#222" >75</text>
<line x1="200.1" y1="760.3" x2="200.1" y2="762.6" stroke="#222" stroke-width="1.1" />
<text x="200.1" y="769.4" font-size="6.9" text-anchor="middle" fill="#222" >82</text>
<line x1="214.08" y1="760.3" x2="214.08" y2="762.6" stroke="#222" stroke-width="1.1" />
<text x="214.08" y="769.4" font-size="6.9" text-anchor="middle" fill="#222" >117</text>
<line x1="228.06" y1="760.3" x2="228.06" y2="762.6" stroke="#222" stroke-width="1.1" />
<text x="228.06" y="769.4" font-size="6.9" text-anchor="middle" fill="#222" >119</text>
<line x1="242.04" y1="760.3" x2="242.04" y2="762.6" stroke="#222" stroke-width="1.1" />
<text x="242.04" y="769.4" font-size="6.9" text-anchor="middle" fill="#222" >124</text>
<line x1="291.2" y1="629.5" x2="291.2" y2="760" stroke="#8c8c8c" stroke-width="1.1" stroke-dasharray="1 1.95"/>
<line x1="305.18" y1="629.5" x2="305.18" y2="760" stroke="#B98342" stroke-width="1.1" stroke-dasharray="1 1.95"/>
<line x1="370.18" y1="629.5" x2="370.18" y2="760" stroke="#8c8c8c" stroke-width="1.1" stroke-dasharray="1 1.95"/>
<line x1="375.08" y1="629.5" x2="375.08" y2="760" stroke="#B98342" stroke-width="1.1" stroke-dasharray="1 1.95"/>
<line x1="439.28" y1="629.5" x2="439.28" y2="760" stroke="#8c8c8c" stroke-width="1.1" stroke-dasharray="1 1.95"/>
<line x1="444.98" y1="629.5" x2="444.98" y2="760" stroke="#B98342" stroke-width="1.1" stroke-dasharray="1 1.95"/>
<line x1="283.9" y1="627.8" x2="283.9" y2="761.1" stroke="#222" stroke-width="1.6" />
<line x1="281.7" y1="760.3" x2="283.9" y2="760.3" stroke="#222" stroke-width="1.2" />
<text x="280.5" y="763.6" font-size="9.2" text-anchor="end" fill="#222" >0</text>
<line x1="281.7" y1="733.94" x2="283.9" y2="733.94" stroke="#222" stroke-width="1.2" />
<text x="280.5" y="737.24" font-size="9.2" text-anchor="end" fill="#222" >20</text>
<line x1="281.7" y1="707.58" x2="283.9" y2="707.58" stroke="#222" stroke-width="1.2" />
<text x="280.5" y="710.88" font-size="9.2" text-anchor="end" fill="#222" >40</text>
<line x1="281.7" y1="681.22" x2="283.9" y2="681.22" stroke="#222" stroke-width="1.2" />
<text x="280.5" y="684.52" font-size="9.2" text-anchor="end" fill="#222" >60</text>
<line x1="281.7" y1="654.86" x2="283.9" y2="654.86" stroke="#222" stroke-width="1.2" />
<text x="280.5" y="658.16" font-size="9.2" text-anchor="end" fill="#222" >80</text>
<line x1="281.7" y1="628.5" x2="283.9" y2="628.5" stroke="#222" stroke-width="1.2" />
<text x="280.5" y="631.8" font-size="9.2" text-anchor="end" fill="#222" >100</text>
<line x1="283.1" y1="760.3" x2="478" y2="760.3" stroke="#222" stroke-width="1.6" />
<line x1="291.2" y1="760.3" x2="291.2" y2="762.6" stroke="#222" stroke-width="1.1" />
<text x="291.2" y="769.4" font-size="6.9" text-anchor="middle" fill="#222" >0</text>
<line x1="305.18" y1="760.3" x2="305.18" y2="762.6" stroke="#222" stroke-width="1.1" />
<text x="305.18" y="769.4" font-size="6.9" text-anchor="middle" fill="#222" >5</text>
<line x1="319.16" y1="760.3" x2="319.16" y2="762.6" stroke="#222" stroke-width="1.1" />
<text x="319.16" y="769.4" font-size="6.9" text-anchor="middle" fill="#222" >7</text>
<line x1="333.14" y1="760.3" x2="333.14" y2="762.6" stroke="#222" stroke-width="1.1" />
<text x="333.14" y="769.4" font-size="6.9" text-anchor="middle" fill="#222" >12</text>
<line x1="347.12" y1="760.3" x2="347.12" y2="762.6" stroke="#222" stroke-width="1.1" />
<text x="347.12" y="769.4" font-size="6.9" text-anchor="middle" fill="#222" >19</text>
<line x1="361.1" y1="760.3" x2="361.1" y2="762.6" stroke="#222" stroke-width="1.1" />
<text x="361.1" y="769.4" font-size="6.9" text-anchor="middle" fill="#222" >26</text>
<line x1="375.08" y1="760.3" x2="375.08" y2="762.6" stroke="#222" stroke-width="1.1" />
<text x="375.08" y="769.4" font-size="6.9" text-anchor="middle" fill="#222" >61</text>
<line x1="389.06" y1="760.3" x2="389.06" y2="762.6" stroke="#222" stroke-width="1.1" />
<text x="389.06" y="769.4" font-size="6.9" text-anchor="middle" fill="#222" >63</text>
<line x1="403.04" y1="760.3" x2="403.04" y2="762.6" stroke="#222" stroke-width="1.1" />
<text x="403.04" y="769.4" font-size="6.9" text-anchor="middle" fill="#222" >69</text>
<line x1="417.02" y1="760.3" x2="417.02" y2="762.6" stroke="#222" stroke-width="1.1" />
<text x="417.02" y="769.4" font-size="6.9" text-anchor="middle" fill="#222" >75</text>
<line x1="431" y1="760.3" x2="431" y2="762.6" stroke="#222" stroke-width="1.1" />
<text x="431" y="769.4" font-size="6.9" text-anchor="middle" fill="#222" >82</text>
<line x1="444.98" y1="760.3" x2="444.98" y2="762.6" stroke="#222" stroke-width="1.1" />
<text x="444.98" y="769.4" font-size="6.9" text-anchor="middle" fill="#222" >117</text>
<line x1="458.96" y1="760.3" x2="458.96" y2="762.6" stroke="#222" stroke-width="1.1" />
<text x="458.96" y="769.4" font-size="6.9" text-anchor="middle" fill="#222" >119</text>
<line x1="472.94" y1="760.3" x2="472.94" y2="762.6" stroke="#222" stroke-width="1.1" />
<text x="472.94" y="769.4" font-size="6.9" text-anchor="middle" fill="#222" >124</text>
<line x1="535.5" y1="629.5" x2="535.5" y2="760" stroke="#8c8c8c" stroke-width="1.1" stroke-dasharray="1 1.95"/>
<line x1="549.45" y1="629.5" x2="549.45" y2="760" stroke="#B98342" stroke-width="1.1" stroke-dasharray="1 1.95"/>
<line x1="614.3" y1="629.5" x2="614.3" y2="760" stroke="#8c8c8c" stroke-width="1.1" stroke-dasharray="1 1.95"/>
<line x1="619.2" y1="629.5" x2="619.2" y2="760" stroke="#B98342" stroke-width="1.1" stroke-dasharray="1 1.95"/>
<line x1="683.25" y1="629.5" x2="683.25" y2="760" stroke="#8c8c8c" stroke-width="1.1" stroke-dasharray="1 1.95"/>
<line x1="688.95" y1="629.5" x2="688.95" y2="760" stroke="#B98342" stroke-width="1.1" stroke-dasharray="1 1.95"/>
<line x1="528.3" y1="627.8" x2="528.3" y2="761.1" stroke="#222" stroke-width="1.6" />
<line x1="526.1" y1="760.3" x2="528.3" y2="760.3" stroke="#222" stroke-width="1.2" />
<text x="524.9" y="763.6" font-size="9.2" text-anchor="end" fill="#222" >0</text>
<line x1="526.1" y1="733.94" x2="528.3" y2="733.94" stroke="#222" stroke-width="1.2" />
<text x="524.9" y="737.24" font-size="9.2" text-anchor="end" fill="#222" >20</text>
<line x1="526.1" y1="707.58" x2="528.3" y2="707.58" stroke="#222" stroke-width="1.2" />
<text x="524.9" y="710.88" font-size="9.2" text-anchor="end" fill="#222" >40</text>
<line x1="526.1" y1="681.22" x2="528.3" y2="681.22" stroke="#222" stroke-width="1.2" />
<text x="524.9" y="684.52" font-size="9.2" text-anchor="end" fill="#222" >60</text>
<line x1="526.1" y1="654.86" x2="528.3" y2="654.86" stroke="#222" stroke-width="1.2" />
<text x="524.9" y="658.16" font-size="9.2" text-anchor="end" fill="#222" >80</text>
<line x1="526.1" y1="628.5" x2="528.3" y2="628.5" stroke="#222" stroke-width="1.2" />
<text x="524.9" y="631.8" font-size="9.2" text-anchor="end" fill="#222" >100</text>
<line x1="527.5" y1="760.3" x2="724" y2="760.3" stroke="#222" stroke-width="1.6" />
<line x1="535.5" y1="760.3" x2="535.5" y2="762.6" stroke="#222" stroke-width="1.1" />
<text x="535.5" y="769.4" font-size="6.9" text-anchor="middle" fill="#222" >0</text>
<line x1="549.45" y1="760.3" x2="549.45" y2="762.6" stroke="#222" stroke-width="1.1" />
<text x="549.45" y="769.4" font-size="6.9" text-anchor="middle" fill="#222" >5</text>
<line x1="563.4" y1="760.3" x2="563.4" y2="762.6" stroke="#222" stroke-width="1.1" />
<text x="563.4" y="769.4" font-size="6.9" text-anchor="middle" fill="#222" >7</text>
<line x1="577.35" y1="760.3" x2="577.35" y2="762.6" stroke="#222" stroke-width="1.1" />
<text x="577.35" y="769.4" font-size="6.9" text-anchor="middle" fill="#222" >12</text>
<line x1="591.3" y1="760.3" x2="591.3" y2="762.6" stroke="#222" stroke-width="1.1" />
<text x="591.3" y="769.4" font-size="6.9" text-anchor="middle" fill="#222" >19</text>
<line x1="605.25" y1="760.3" x2="605.25" y2="762.6" stroke="#222" stroke-width="1.1" />
<text x="605.25" y="769.4" font-size="6.9" text-anchor="middle" fill="#222" >26</text>
<line x1="619.2" y1="760.3" x2="619.2" y2="762.6" stroke="#222" stroke-width="1.1" />
<text x="619.2" y="769.4" font-size="6.9" text-anchor="middle" fill="#222" >61</text>
<line x1="633.15" y1="760.3" x2="633.15" y2="762.6" stroke="#222" stroke-width="1.1" />
<text x="633.15" y="769.4" font-size="6.9" text-anchor="middle" fill="#222" >63</text>
<line x1="647.1" y1="760.3" x2="647.1" y2="762.6" stroke="#222" stroke-width="1.1" />
<text x="647.1" y="769.4" font-size="6.9" text-anchor="middle" fill="#222" >69</text>
<line x1="661.05" y1="760.3" x2="661.05" y2="762.6" stroke="#222" stroke-width="1.1" />
<text x="661.05" y="769.4" font-size="6.9" text-anchor="middle" fill="#222" >75</text>
<line x1="675" y1="760.3" x2="675" y2="762.6" stroke="#222" stroke-width="1.1" />
<text x="675" y="769.4" font-size="6.9" text-anchor="middle" fill="#222" >82</text>
<line x1="688.95" y1="760.3" x2="688.95" y2="762.6" stroke="#222" stroke-width="1.1" />
<text x="688.95" y="769.4" font-size="6.9" text-anchor="middle" fill="#222" >117</text>
<line x1="702.9" y1="760.3" x2="702.9" y2="762.6" stroke="#222" stroke-width="1.1" />
<text x="702.9" y="769.4" font-size="6.9" text-anchor="middle" fill="#222" >119</text>
<line x1="716.85" y1="760.3" x2="716.85" y2="762.6" stroke="#222" stroke-width="1.1" />
<text x="716.85" y="769.4" font-size="6.9" text-anchor="middle" fill="#222" >124</text>
<line x1="74.28" y1="740.4" x2="74.28" y2="760.17" stroke="#5BA3F7" stroke-width="1.0" />
<line x1="72.68" y1="740.4" x2="75.88" y2="740.4" stroke="#5BA3F7" stroke-width="1.0" />
<line x1="72.68" y1="760.17" x2="75.88" y2="760.17" stroke="#5BA3F7" stroke-width="1.0" />
<line x1="88.26" y1="742.24" x2="88.26" y2="760.3" stroke="#5BA3F7" stroke-width="1.0" />
<line x1="86.66" y1="742.24" x2="89.86" y2="742.24" stroke="#5BA3F7" stroke-width="1.0" />
<line x1="144.18" y1="756.35" x2="144.18" y2="760.3" stroke="#5BA3F7" stroke-width="1.0" />
<line x1="142.58" y1="756.35" x2="145.78" y2="756.35" stroke="#5BA3F7" stroke-width="1.0" />
<line x1="158.16" y1="751.21" x2="158.16" y2="759.11" stroke="#5BA3F7" stroke-width="1.0" />
<line x1="156.56" y1="751.21" x2="159.76" y2="751.21" stroke="#5BA3F7" stroke-width="1.0" />
<line x1="156.56" y1="759.11" x2="159.76" y2="759.11" stroke="#5BA3F7" stroke-width="1.0" />
<line x1="172.14" y1="745.14" x2="172.14" y2="753.05" stroke="#5BA3F7" stroke-width="1.0" />
<line x1="170.54" y1="745.14" x2="173.74" y2="745.14" stroke="#5BA3F7" stroke-width="1.0" />
<line x1="170.54" y1="753.05" x2="173.74" y2="753.05" stroke="#5BA3F7" stroke-width="1.0" />
<line x1="186.12" y1="739.61" x2="186.12" y2="744.88" stroke="#5BA3F7" stroke-width="1.0" />
<line x1="184.52" y1="739.61" x2="187.72" y2="739.61" stroke="#5BA3F7" stroke-width="1.0" />
<line x1="184.52" y1="744.88" x2="187.72" y2="744.88" stroke="#5BA3F7" stroke-width="1.0" />
<line x1="200.1" y1="744.88" x2="200.1" y2="750.15" stroke="#5BA3F7" stroke-width="1.0" />
<line x1="198.5" y1="744.88" x2="201.7" y2="744.88" stroke="#5BA3F7" stroke-width="1.0" />
<line x1="198.5" y1="750.15" x2="201.7" y2="750.15" stroke="#5BA3F7" stroke-width="1.0" />
<line x1="214.08" y1="745.93" x2="214.08" y2="751.21" stroke="#5BA3F7" stroke-width="1.0" />
<line x1="212.48" y1="745.93" x2="215.68" y2="745.93" stroke="#5BA3F7" stroke-width="1.0" />
<line x1="212.48" y1="751.21" x2="215.68" y2="751.21" stroke="#5BA3F7" stroke-width="1.0" />
<line x1="228.06" y1="734.07" x2="228.06" y2="739.34" stroke="#5BA3F7" stroke-width="1.0" />
<line x1="226.46" y1="734.07" x2="229.66" y2="734.07" stroke="#5BA3F7" stroke-width="1.0" />
<line x1="226.46" y1="739.34" x2="229.66" y2="739.34" stroke="#5BA3F7" stroke-width="1.0" />
<line x1="242.04" y1="729.99" x2="242.04" y2="735.26" stroke="#5BA3F7" stroke-width="1.0" />
<line x1="240.44" y1="729.99" x2="243.64" y2="729.99" stroke="#5BA3F7" stroke-width="1.0" />
<line x1="240.44" y1="735.26" x2="243.64" y2="735.26" stroke="#5BA3F7" stroke-width="1.0" />
<path d="M60.3,760.3 L74.28,750.28 L88.26,757.4 L102.24,757.93 L116.22,756.61 L130.2,759.31 L144.18,760.3 L158.16,755.16 L172.14,749.1 L186.12,742.24 L200.1,747.52 L214.08,748.57 L228.06,736.71 L242.04,732.62" fill="none" stroke="#5BA3F7" stroke-width="1.6" stroke-linejoin="round"/>
<circle cx="60.3" cy="760.3" r="2.3" fill="none" stroke="#5BA3F7" stroke-width="0.9"/>
<circle cx="74.28" cy="750.28" r="2.3" fill="none" stroke="#5BA3F7" stroke-width="0.9"/>
<circle cx="88.26" cy="757.4" r="2.3" fill="none" stroke="#5BA3F7" stroke-width="0.9"/>
<circle cx="102.24" cy="757.93" r="2.3" fill="none" stroke="#5BA3F7" stroke-width="0.9"/>
<circle cx="116.22" cy="756.61" r="2.3" fill="none" stroke="#5BA3F7" stroke-width="0.9"/>
<circle cx="130.2" cy="759.31" r="2.3" fill="none" stroke="#5BA3F7" stroke-width="0.9"/>
<circle cx="144.18" cy="760.3" r="2.3" fill="none" stroke="#5BA3F7" stroke-width="0.9"/>
<circle cx="158.16" cy="755.16" r="2.3" fill="none" stroke="#5BA3F7" stroke-width="0.9"/>
<circle cx="172.14" cy="749.1" r="2.3" fill="none" stroke="#5BA3F7" stroke-width="0.9"/>
<circle cx="186.12" cy="742.24" r="2.3" fill="none" stroke="#5BA3F7" stroke-width="0.9"/>
<circle cx="200.1" cy="747.52" r="2.3" fill="none" stroke="#5BA3F7" stroke-width="0.9"/>
<circle cx="214.08" cy="748.57" r="2.3" fill="none" stroke="#5BA3F7" stroke-width="0.9"/>
<circle cx="228.06" cy="736.71" r="2.3" fill="none" stroke="#5BA3F7" stroke-width="0.9"/>
<circle cx="242.04" cy="732.62" r="2.3" fill="none" stroke="#5BA3F7" stroke-width="0.9"/>
<line x1="60.3" y1="752.66" x2="60.3" y2="760.3" stroke="#3DE0A2" stroke-width="1.0" />
<line x1="58.7" y1="752.66" x2="61.9" y2="752.66" stroke="#3DE0A2" stroke-width="1.0" />
<line x1="116.22" y1="749.1" x2="116.22" y2="760.3" stroke="#3DE0A2" stroke-width="1.0" />
<line x1="114.62" y1="749.1" x2="117.82" y2="749.1" stroke="#3DE0A2" stroke-width="1.0" />
<line x1="172.14" y1="699.14" x2="172.14" y2="704.42" stroke="#3DE0A2" stroke-width="1.0" />
<line x1="170.54" y1="699.14" x2="173.74" y2="699.14" stroke="#3DE0A2" stroke-width="1.0" />
<line x1="170.54" y1="704.42" x2="173.74" y2="704.42" stroke="#3DE0A2" stroke-width="1.0" />
<line x1="200.1" y1="730.64" x2="200.1" y2="741.19" stroke="#3DE0A2" stroke-width="1.0" />
<line x1="198.5" y1="730.64" x2="201.7" y2="730.64" stroke="#3DE0A2" stroke-width="1.0" />
<line x1="198.5" y1="741.19" x2="201.7" y2="741.19" stroke="#3DE0A2" stroke-width="1.0" />
<line x1="242.04" y1="707.45" x2="242.04" y2="720.63" stroke="#3DE0A2" stroke-width="1.0" />
<line x1="240.44" y1="707.45" x2="243.64" y2="707.45" stroke="#3DE0A2" stroke-width="1.0" />
<line x1="240.44" y1="720.63" x2="243.64" y2="720.63" stroke="#3DE0A2" stroke-width="1.0" />
<path d="M60.3,757.93 L74.28,751.07 L88.26,755.69 L102.24,756.61 L116.22,755.69 L130.2,758.72 L144.18,744.75 L158.16,696.51 L172.14,701.78 L186.12,727.09 L200.1,735.92 L214.08,734.07 L228.06,710.08 L242.04,714.04" fill="none" stroke="#3DE0A2" stroke-width="1.6" stroke-linejoin="round"/>
<circle cx="60.3" cy="757.93" r="2.4" fill="#3DE0A2"/>
<circle cx="74.28" cy="751.07" r="2.4" fill="#3DE0A2"/>
<circle cx="88.26" cy="755.69" r="2.4" fill="#3DE0A2"/>
<circle cx="102.24" cy="756.61" r="2.4" fill="#3DE0A2"/>
<circle cx="116.22" cy="755.69" r="2.4" fill="#3DE0A2"/>
<circle cx="130.2" cy="758.72" r="2.4" fill="#3DE0A2"/>
<circle cx="144.18" cy="744.75" r="2.4" fill="#3DE0A2"/>
<circle cx="158.16" cy="696.51" r="2.4" fill="#3DE0A2"/>
<circle cx="172.14" cy="701.78" r="2.4" fill="#3DE0A2"/>
<circle cx="186.12" cy="727.09" r="2.4" fill="#3DE0A2"/>
<circle cx="200.1" cy="735.92" r="2.4" fill="#3DE0A2"/>
<circle cx="214.08" cy="734.07" r="2.4" fill="#3DE0A2"/>
<circle cx="228.06" cy="710.08" r="2.4" fill="#3DE0A2"/>
<circle cx="242.04" cy="714.04" r="2.4" fill="#3DE0A2"/>
<line x1="60.3" y1="756.02" x2="60.3" y2="760.3" stroke="#1A1AEE" stroke-width="1.0" />
<line x1="58.7" y1="756.02" x2="61.9" y2="756.02" stroke="#1A1AEE" stroke-width="1.0" />
<line x1="102.24" y1="744.35" x2="102.24" y2="760.3" stroke="#1A1AEE" stroke-width="1.0" />
<line x1="100.64" y1="744.35" x2="103.84" y2="744.35" stroke="#1A1AEE" stroke-width="1.0" />
<line x1="130.2" y1="750.81" x2="130.2" y2="760.3" stroke="#1A1AEE" stroke-width="1.0" />
<line x1="128.6" y1="750.81" x2="131.8" y2="750.81" stroke="#1A1AEE" stroke-width="1.0" />
<line x1="228.06" y1="692.16" x2="228.06" y2="702.7" stroke="#1A1AEE" stroke-width="1.0" />
<line x1="226.46" y1="692.16" x2="229.66" y2="692.16" stroke="#1A1AEE" stroke-width="1.0" />
<line x1="226.46" y1="702.7" x2="229.66" y2="702.7" stroke="#1A1AEE" stroke-width="1.0" />
<path d="M60.3,759.31 L74.28,760.3 L88.26,760.3 L102.24,752.92 L116.22,756.35 L130.2,758.72 L144.18,738.16 L158.16,690.31 L172.14,682.27 L186.12,694.14 L200.1,707.32 L214.08,734.6 L228.06,697.43 L242.04,683.59" fill="none" stroke="#1A1AEE" stroke-width="1.6" stroke-linejoin="round"/>
<circle cx="60.3" cy="759.31" r="2.3" fill="none" stroke="#1A1AEE" stroke-width="0.9"/>
<circle cx="74.28" cy="760.3" r="2.3" fill="none" stroke="#1A1AEE" stroke-width="0.9"/>
<circle cx="88.26" cy="760.3" r="2.3" fill="none" stroke="#1A1AEE" stroke-width="0.9"/>
<circle cx="102.24" cy="752.92" r="2.3" fill="none" stroke="#1A1AEE" stroke-width="0.9"/>
<circle cx="116.22" cy="756.35" r="2.3" fill="none" stroke="#1A1AEE" stroke-width="0.9"/>
<circle cx="130.2" cy="758.72" r="2.3" fill="none" stroke="#1A1AEE" stroke-width="0.9"/>
<circle cx="144.18" cy="738.16" r="2.3" fill="none" stroke="#1A1AEE" stroke-width="0.9"/>
<circle cx="158.16" cy="690.31" r="2.3" fill="none" stroke="#1A1AEE" stroke-width="0.9"/>
<circle cx="172.14" cy="682.27" r="2.3" fill="none" stroke="#1A1AEE" stroke-width="0.9"/>
<circle cx="186.12" cy="694.14" r="2.3" fill="none" stroke="#1A1AEE" stroke-width="0.9"/>
<circle cx="200.1" cy="707.32" r="2.3" fill="none" stroke="#1A1AEE" stroke-width="0.9"/>
<circle cx="214.08" cy="734.6" r="2.3" fill="none" stroke="#1A1AEE" stroke-width="0.9"/>
<circle cx="228.06" cy="697.43" r="2.3" fill="none" stroke="#1A1AEE" stroke-width="0.9"/>
<circle cx="242.04" cy="683.59" r="2.3" fill="none" stroke="#1A1AEE" stroke-width="0.9"/>
<line x1="319.16" y1="751.86" x2="319.16" y2="760.3" stroke="#F98A8A" stroke-width="1.0" />
<line x1="317.56" y1="751.86" x2="320.76" y2="751.86" stroke="#F98A8A" stroke-width="1.0" />
<line x1="361.1" y1="741.58" x2="361.1" y2="760.3" stroke="#F98A8A" stroke-width="1.0" />
<line x1="359.5" y1="741.58" x2="362.7" y2="741.58" stroke="#F98A8A" stroke-width="1.0" />
<line x1="375.08" y1="751.47" x2="375.08" y2="759.38" stroke="#F98A8A" stroke-width="1.0" />
<line x1="373.48" y1="751.47" x2="376.68" y2="751.47" stroke="#F98A8A" stroke-width="1.0" />
<line x1="373.48" y1="759.38" x2="376.68" y2="759.38" stroke="#F98A8A" stroke-width="1.0" />
<line x1="417.02" y1="726.3" x2="417.02" y2="734.2" stroke="#F98A8A" stroke-width="1.0" />
<line x1="415.42" y1="726.3" x2="418.62" y2="726.3" stroke="#F98A8A" stroke-width="1.0" />
<line x1="415.42" y1="734.2" x2="418.62" y2="734.2" stroke="#F98A8A" stroke-width="1.0" />
<line x1="431" y1="740.53" x2="431" y2="751.07" stroke="#F98A8A" stroke-width="1.0" />
<line x1="429.4" y1="740.53" x2="432.6" y2="740.53" stroke="#F98A8A" stroke-width="1.0" />
<line x1="429.4" y1="751.07" x2="432.6" y2="751.07" stroke="#F98A8A" stroke-width="1.0" />
<line x1="472.94" y1="711.4" x2="472.94" y2="716.67" stroke="#F98A8A" stroke-width="1.0" />
<line x1="471.34" y1="711.4" x2="474.54" y2="711.4" stroke="#F98A8A" stroke-width="1.0" />
<line x1="471.34" y1="716.67" x2="474.54" y2="716.67" stroke="#F98A8A" stroke-width="1.0" />
<path d="M291.2,754.37 L305.18,756.87 L319.16,757.14 L333.14,756.87 L347.12,759.64 L361.1,754.76 L375.08,755.42 L389.06,727.88 L403.04,717.86 L417.02,730.25 L431,745.8 L444.98,743.03 L458.96,723 L472.94,714.04" fill="none" stroke="#F98A8A" stroke-width="1.6" stroke-linejoin="round"/>
<rect x="289.2" y="752.37" width="4" height="4" fill="none" stroke="#F98A8A" stroke-width="0.9"/>
<rect x="303.18" y="754.87" width="4" height="4" fill="none" stroke="#F98A8A" stroke-width="0.9"/>
<rect x="317.16" y="755.14" width="4" height="4" fill="none" stroke="#F98A8A" stroke-width="0.9"/>
<rect x="331.14" y="754.87" width="4" height="4" fill="none" stroke="#F98A8A" stroke-width="0.9"/>
<rect x="345.12" y="757.64" width="4" height="4" fill="none" stroke="#F98A8A" stroke-width="0.9"/>
<rect x="359.1" y="752.76" width="4" height="4" fill="none" stroke="#F98A8A" stroke-width="0.9"/>
<rect x="373.08" y="753.42" width="4" height="4" fill="none" stroke="#F98A8A" stroke-width="0.9"/>
<rect x="387.06" y="725.88" width="4" height="4" fill="none" stroke="#F98A8A" stroke-width="0.9"/>
<rect x="401.04" y="715.86" width="4" height="4" fill="none" stroke="#F98A8A" stroke-width="0.9"/>
<rect x="415.02" y="728.25" width="4" height="4" fill="none" stroke="#F98A8A" stroke-width="0.9"/>
<rect x="429" y="743.8" width="4" height="4" fill="none" stroke="#F98A8A" stroke-width="0.9"/>
<rect x="442.98" y="741.03" width="4" height="4" fill="none" stroke="#F98A8A" stroke-width="0.9"/>
<rect x="456.96" y="721" width="4" height="4" fill="none" stroke="#F98A8A" stroke-width="0.9"/>
<rect x="470.94" y="712.04" width="4" height="4" fill="none" stroke="#F98A8A" stroke-width="0.9"/>
<path d="M291.2,759.64 L305.18,760.3 L319.16,760.3 L333.14,759.64 L347.12,759.64 L361.1,760.3 L375.08,755.42 L389.06,700.99 L403.04,693.35 L417.02,713.77 L431,730.25 L444.98,716.81 L458.96,680.3 L472.94,658.81" fill="none" stroke="#A01E1E" stroke-width="1.6" stroke-linejoin="round"/>
<rect x="289.2" y="757.64" width="4" height="4" fill="none" stroke="#A01E1E" stroke-width="0.9"/>
<path d="M289.6,758.04 L292.8,761.24 M292.8,758.04 L289.6,761.24" stroke="#A01E1E" stroke-width="0.7"/>
<rect x="303.18" y="758.3" width="4" height="4" fill="none" stroke="#A01E1E" stroke-width="0.9"/>
<path d="M303.58,758.7 L306.78,761.9 M306.78,758.7 L303.58,761.9" stroke="#A01E1E" stroke-width="0.7"/>
<rect x="317.16" y="758.3" width="4" height="4" fill="none" stroke="#A01E1E" stroke-width="0.9"/>
<path d="M317.56,758.7 L320.76,761.9 M320.76,758.7 L317.56,761.9" stroke="#A01E1E" stroke-width="0.7"/>
<rect x="331.14" y="757.64" width="4" height="4" fill="none" stroke="#A01E1E" stroke-width="0.9"/>
<path d="M331.54,758.04 L334.74,761.24 M334.74,758.04 L331.54,761.24" stroke="#A01E1E" stroke-width="0.7"/>
<rect x="345.12" y="757.64" width="4" height="4" fill="none" stroke="#A01E1E" stroke-width="0.9"/>
<path d="M345.52,758.04 L348.72,761.24 M348.72,758.04 L345.52,761.24" stroke="#A01E1E" stroke-width="0.7"/>
<rect x="359.1" y="758.3" width="4" height="4" fill="none" stroke="#A01E1E" stroke-width="0.9"/>
<path d="M359.5,758.7 L362.7,761.9 M362.7,758.7 L359.5,761.9" stroke="#A01E1E" stroke-width="0.7"/>
<rect x="373.08" y="753.42" width="4" height="4" fill="none" stroke="#A01E1E" stroke-width="0.9"/>
<path d="M373.48,753.82 L376.68,757.02 M376.68,753.82 L373.48,757.02" stroke="#A01E1E" stroke-width="0.7"/>
<rect x="387.06" y="698.99" width="4" height="4" fill="none" stroke="#A01E1E" stroke-width="0.9"/>
<path d="M387.46,699.39 L390.66,702.59 M390.66,699.39 L387.46,702.59" stroke="#A01E1E" stroke-width="0.7"/>
<rect x="401.04" y="691.35" width="4" height="4" fill="none" stroke="#A01E1E" stroke-width="0.9"/>
<path d="M401.44,691.75 L404.64,694.95 M404.64,691.75 L401.44,694.95" stroke="#A01E1E" stroke-width="0.7"/>
<rect x="415.02" y="711.77" width="4" height="4" fill="none" stroke="#A01E1E" stroke-width="0.9"/>
<path d="M415.42,712.17 L418.62,715.37 M418.62,712.17 L415.42,715.37" stroke="#A01E1E" stroke-width="0.7"/>
<rect x="429" y="728.25" width="4" height="4" fill="none" stroke="#A01E1E" stroke-width="0.9"/>
<path d="M429.4,728.65 L432.6,731.85 M432.6,728.65 L429.4,731.85" stroke="#A01E1E" stroke-width="0.7"/>
<rect x="442.98" y="714.81" width="4" height="4" fill="none" stroke="#A01E1E" stroke-width="0.9"/>
<path d="M443.38,715.21 L446.58,718.41 M446.58,715.21 L443.38,718.41" stroke="#A01E1E" stroke-width="0.7"/>
<rect x="456.96" y="678.3" width="4" height="4" fill="none" stroke="#A01E1E" stroke-width="0.9"/>
<path d="M457.36,678.7 L460.56,681.9 M460.56,678.7 L457.36,681.9" stroke="#A01E1E" stroke-width="0.7"/>
<rect x="470.94" y="656.81" width="4" height="4" fill="none" stroke="#A01E1E" stroke-width="0.9"/>
<path d="M471.34,657.21 L474.54,660.41 M474.54,657.21 L471.34,660.41" stroke="#A01E1E" stroke-width="0.7"/>
<line x1="333.14" y1="728.67" x2="333.14" y2="760.3" stroke="#FF1010" stroke-width="1.0" />
<line x1="331.54" y1="728.67" x2="334.74" y2="728.67" stroke="#FF1010" stroke-width="1.0" />
<line x1="331.54" y1="760.3" x2="334.74" y2="760.3" stroke="#FF1010" stroke-width="1.0" />
<line x1="305.18" y1="751.47" x2="305.18" y2="756.74" stroke="#FF1010" stroke-width="1.0" />
<line x1="303.58" y1="751.47" x2="306.78" y2="751.47" stroke="#FF1010" stroke-width="1.0" />
<line x1="303.58" y1="756.74" x2="306.78" y2="756.74" stroke="#FF1010" stroke-width="1.0" />
<line x1="347.12" y1="752.79" x2="347.12" y2="758.06" stroke="#FF1010" stroke-width="1.0" />
<line x1="345.52" y1="752.79" x2="348.72" y2="752.79" stroke="#FF1010" stroke-width="1.0" />
<line x1="345.52" y1="758.06" x2="348.72" y2="758.06" stroke="#FF1010" stroke-width="1.0" />
<line x1="389.06" y1="695.32" x2="389.06" y2="703.23" stroke="#FF1010" stroke-width="1.0" />
<line x1="387.46" y1="695.32" x2="390.66" y2="695.32" stroke="#FF1010" stroke-width="1.0" />
<line x1="387.46" y1="703.23" x2="390.66" y2="703.23" stroke="#FF1010" stroke-width="1.0" />
<line x1="431" y1="698.49" x2="431" y2="709.03" stroke="#FF1010" stroke-width="1.0" />
<line x1="429.4" y1="698.49" x2="432.6" y2="698.49" stroke="#FF1010" stroke-width="1.0" />
<line x1="429.4" y1="709.03" x2="432.6" y2="709.03" stroke="#FF1010" stroke-width="1.0" />
<line x1="472.94" y1="685.31" x2="472.94" y2="695.85" stroke="#FF1010" stroke-width="1.0" />
<line x1="471.34" y1="685.31" x2="474.54" y2="685.31" stroke="#FF1010" stroke-width="1.0" />
<line x1="471.34" y1="695.85" x2="474.54" y2="695.85" stroke="#FF1010" stroke-width="1.0" />
<path d="M291.2,760.3 L305.18,754.11 L319.16,756.21 L333.14,744.48 L347.12,755.42 L361.1,760.3 L375.08,754.37 L389.06,699.28 L403.04,676.74 L417.02,681.62 L431,703.76 L444.98,729.2 L458.96,707.18 L472.94,690.58" fill="none" stroke="#FF1010" stroke-width="1.6" stroke-linejoin="round"/>
<rect x="289" y="758.1" width="4.4" height="4.4" fill="#FF1010"/>
<rect x="302.98" y="751.91" width="4.4" height="4.4" fill="#FF1010"/>
<rect x="316.96" y="754.01" width="4.4" height="4.4" fill="#FF1010"/>
<rect x="330.94" y="742.28" width="4.4" height="4.4" fill="#FF1010"/>
<rect x="344.92" y="753.22" width="4.4" height="4.4" fill="#FF1010"/>
<rect x="358.9" y="758.1" width="4.4" height="4.4" fill="#FF1010"/>
<rect x="372.88" y="752.17" width="4.4" height="4.4" fill="#FF1010"/>
<rect x="386.86" y="697.08" width="4.4" height="4.4" fill="#FF1010"/>
<rect x="400.84" y="674.54" width="4.4" height="4.4" fill="#FF1010"/>
<rect x="414.82" y="679.42" width="4.4" height="4.4" fill="#FF1010"/>
<rect x="428.8" y="701.56" width="4.4" height="4.4" fill="#FF1010"/>
<rect x="442.78" y="727" width="4.4" height="4.4" fill="#FF1010"/>
<rect x="456.76" y="704.98" width="4.4" height="4.4" fill="#FF1010"/>
<rect x="470.74" y="688.38" width="4.4" height="4.4" fill="#FF1010"/>
<line x1="535.5" y1="752.39" x2="535.5" y2="760.3" stroke="#A3A3A3" stroke-width="1.0" />
<line x1="533.9" y1="752.39" x2="537.1" y2="752.39" stroke="#A3A3A3" stroke-width="1.0" />
<line x1="549.45" y1="745.8" x2="549.45" y2="756.35" stroke="#A3A3A3" stroke-width="1.0" />
<line x1="547.85" y1="745.8" x2="551.05" y2="745.8" stroke="#A3A3A3" stroke-width="1.0" />
<line x1="547.85" y1="756.35" x2="551.05" y2="756.35" stroke="#A3A3A3" stroke-width="1.0" />
<line x1="675" y1="694" x2="675" y2="704.55" stroke="#A3A3A3" stroke-width="1.0" />
<line x1="673.4" y1="694" x2="676.6" y2="694" stroke="#A3A3A3" stroke-width="1.0" />
<line x1="673.4" y1="704.55" x2="676.6" y2="704.55" stroke="#A3A3A3" stroke-width="1.0" />
<line x1="688.95" y1="704.55" x2="688.95" y2="709.82" stroke="#A3A3A3" stroke-width="1.0" />
<line x1="687.35" y1="704.55" x2="690.55" y2="704.55" stroke="#A3A3A3" stroke-width="1.0" />
<line x1="687.35" y1="709.82" x2="690.55" y2="709.82" stroke="#A3A3A3" stroke-width="1.0" />
<line x1="702.9" y1="665.27" x2="702.9" y2="673.18" stroke="#A3A3A3" stroke-width="1.0" />
<line x1="701.3" y1="665.27" x2="704.5" y2="665.27" stroke="#A3A3A3" stroke-width="1.0" />
<line x1="701.3" y1="673.18" x2="704.5" y2="673.18" stroke="#A3A3A3" stroke-width="1.0" />
<path d="M535.5,758.98 L549.45,751.07 L563.4,746.86 L577.35,756.21 L591.3,759.64 L605.25,754.37 L619.2,725.77 L633.15,668.83 L647.1,672.65 L661.05,677.53 L675,699.28 L688.95,707.18 L702.9,669.23 L716.85,649.19" fill="none" stroke="#A3A3A3" stroke-width="1.5" stroke-linejoin="round"/>
<circle cx="535.5" cy="758.98" r="1.8" fill="#A3A3A3"/>
<circle cx="549.45" cy="751.07" r="1.8" fill="#A3A3A3"/>
<circle cx="563.4" cy="746.86" r="1.8" fill="#A3A3A3"/>
<circle cx="577.35" cy="756.21" r="1.8" fill="#A3A3A3"/>
<circle cx="591.3" cy="759.64" r="1.8" fill="#A3A3A3"/>
<circle cx="605.25" cy="754.37" r="1.8" fill="#A3A3A3"/>
<circle cx="619.2" cy="725.77" r="1.8" fill="#A3A3A3"/>
<circle cx="633.15" cy="668.83" r="1.8" fill="#A3A3A3"/>
<circle cx="647.1" cy="672.65" r="1.8" fill="#A3A3A3"/>
<circle cx="661.05" cy="677.53" r="1.8" fill="#A3A3A3"/>
<circle cx="675" cy="699.28" r="1.8" fill="#A3A3A3"/>
<circle cx="688.95" cy="707.18" r="1.8" fill="#A3A3A3"/>
<circle cx="702.9" cy="669.23" r="1.8" fill="#A3A3A3"/>
<circle cx="716.85" cy="649.19" r="1.8" fill="#A3A3A3"/>
<line x1="605.25" y1="744.48" x2="605.25" y2="760.3" stroke="#A3A3A3" stroke-width="1.0" />
<line x1="603.65" y1="744.48" x2="606.85" y2="744.48" stroke="#A3A3A3" stroke-width="1.0" />
<line x1="647.1" y1="700.46" x2="647.1" y2="705.73" stroke="#A3A3A3" stroke-width="1.0" />
<line x1="645.5" y1="700.46" x2="648.7" y2="700.46" stroke="#A3A3A3" stroke-width="1.0" />
<line x1="645.5" y1="705.73" x2="648.7" y2="705.73" stroke="#A3A3A3" stroke-width="1.0" />
<line x1="661.05" y1="719.71" x2="661.05" y2="724.98" stroke="#A3A3A3" stroke-width="1.0" />
<line x1="659.45" y1="719.71" x2="662.65" y2="719.71" stroke="#A3A3A3" stroke-width="1.0" />
<line x1="659.45" y1="724.98" x2="662.65" y2="724.98" stroke="#A3A3A3" stroke-width="1.0" />
<line x1="675" y1="729.99" x2="675" y2="736.58" stroke="#A3A3A3" stroke-width="1.0" />
<line x1="673.4" y1="729.99" x2="676.6" y2="729.99" stroke="#A3A3A3" stroke-width="1.0" />
<line x1="673.4" y1="736.58" x2="676.6" y2="736.58" stroke="#A3A3A3" stroke-width="1.0" />
<line x1="688.95" y1="718.26" x2="688.95" y2="723.53" stroke="#A3A3A3" stroke-width="1.0" />
<line x1="687.35" y1="718.26" x2="690.55" y2="718.26" stroke="#A3A3A3" stroke-width="1.0" />
<line x1="687.35" y1="723.53" x2="690.55" y2="723.53" stroke="#A3A3A3" stroke-width="1.0" />
<line x1="702.9" y1="691.5" x2="702.9" y2="696.77" stroke="#A3A3A3" stroke-width="1.0" />
<line x1="701.3" y1="691.5" x2="704.5" y2="691.5" stroke="#A3A3A3" stroke-width="1.0" />
<line x1="701.3" y1="696.77" x2="704.5" y2="696.77" stroke="#A3A3A3" stroke-width="1.0" />
<line x1="716.85" y1="682.01" x2="716.85" y2="689.92" stroke="#A3A3A3" stroke-width="1.0" />
<line x1="715.25" y1="682.01" x2="718.45" y2="682.01" stroke="#A3A3A3" stroke-width="1.0" />
<line x1="715.25" y1="689.92" x2="718.45" y2="689.92" stroke="#A3A3A3" stroke-width="1.0" />
<path d="M535.5,758.32 L549.45,756.35 L563.4,757.66 L577.35,756.35 L591.3,759.64 L605.25,756.35 L619.2,733.94 L633.15,692.82 L647.1,703.1 L661.05,722.34 L675,733.28 L688.95,720.89 L702.9,694.14 L716.85,685.96" fill="none" stroke="#A3A3A3" stroke-width="1.5" stroke-linejoin="round"/>
<path d="M533.3,758.32 L537.7,758.32 M535.5,756.12 L535.5,760.52" stroke="#A3A3A3" stroke-width="0.8"/>
<path d="M547.25,756.35 L551.65,756.35 M549.45,754.15 L549.45,758.55" stroke="#A3A3A3" stroke-width="0.8"/>
<path d="M561.2,757.66 L565.6,757.66 M563.4,755.46 L563.4,759.86" stroke="#A3A3A3" stroke-width="0.8"/>
<path d="M575.15,756.35 L579.55,756.35 M577.35,754.15 L577.35,758.55" stroke="#A3A3A3" stroke-width="0.8"/>
<path d="M589.1,759.64 L593.5,759.64 M591.3,757.44 L591.3,761.84" stroke="#A3A3A3" stroke-width="0.8"/>
<path d="M603.05,756.35 L607.45,756.35 M605.25,754.15 L605.25,758.55" stroke="#A3A3A3" stroke-width="0.8"/>
<path d="M617,733.94 L621.4,733.94 M619.2,731.74 L619.2,736.14" stroke="#A3A3A3" stroke-width="0.8"/>
<path d="M630.95,692.82 L635.35,692.82 M633.15,690.62 L633.15,695.02" stroke="#A3A3A3" stroke-width="0.8"/>
<path d="M644.9,703.1 L649.3,703.1 M647.1,700.9 L647.1,705.3" stroke="#A3A3A3" stroke-width="0.8"/>
<path d="M658.85,722.34 L663.25,722.34 M661.05,720.14 L661.05,724.54" stroke="#A3A3A3" stroke-width="0.8"/>
<path d="M672.8,733.28 L677.2,733.28 M675,731.08 L675,735.48" stroke="#A3A3A3" stroke-width="0.8"/>
<path d="M686.75,720.89 L691.15,720.89 M688.95,718.69 L688.95,723.09" stroke="#A3A3A3" stroke-width="0.8"/>
<path d="M700.7,694.14 L705.1,694.14 M702.9,691.94 L702.9,696.34" stroke="#A3A3A3" stroke-width="0.8"/>
<path d="M714.65,685.96 L719.05,685.96 M716.85,683.76 L716.85,688.16" stroke="#A3A3A3" stroke-width="0.8"/>
<line x1="577.35" y1="751.07" x2="577.35" y2="760.3" stroke="#A3A3A3" stroke-width="1.0" />
<line x1="575.75" y1="751.07" x2="578.95" y2="751.07" stroke="#A3A3A3" stroke-width="1.0" />
<line x1="619.2" y1="732.62" x2="619.2" y2="737.89" stroke="#A3A3A3" stroke-width="1.0" />
<line x1="617.6" y1="732.62" x2="620.8" y2="732.62" stroke="#A3A3A3" stroke-width="1.0" />
<line x1="617.6" y1="737.89" x2="620.8" y2="737.89" stroke="#A3A3A3" stroke-width="1.0" />
<line x1="633.15" y1="684.65" x2="633.15" y2="689.92" stroke="#A3A3A3" stroke-width="1.0" />
<line x1="631.55" y1="684.65" x2="634.75" y2="684.65" stroke="#A3A3A3" stroke-width="1.0" />
<line x1="631.55" y1="689.92" x2="634.75" y2="689.92" stroke="#A3A3A3" stroke-width="1.0" />
<line x1="661.05" y1="700.86" x2="661.05" y2="704.81" stroke="#A3A3A3" stroke-width="1.0" />
<line x1="659.45" y1="700.86" x2="662.65" y2="700.86" stroke="#A3A3A3" stroke-width="1.0" />
<line x1="659.45" y1="704.81" x2="662.65" y2="704.81" stroke="#A3A3A3" stroke-width="1.0" />
<line x1="675" y1="707.32" x2="675" y2="712.59" stroke="#A3A3A3" stroke-width="1.0" />
<line x1="673.4" y1="707.32" x2="676.6" y2="707.32" stroke="#A3A3A3" stroke-width="1.0" />
<line x1="673.4" y1="712.59" x2="676.6" y2="712.59" stroke="#A3A3A3" stroke-width="1.0" />
<line x1="688.95" y1="734.86" x2="688.95" y2="745.41" stroke="#A3A3A3" stroke-width="1.0" />
<line x1="687.35" y1="734.86" x2="690.55" y2="734.86" stroke="#A3A3A3" stroke-width="1.0" />
<line x1="687.35" y1="745.41" x2="690.55" y2="745.41" stroke="#A3A3A3" stroke-width="1.0" />
<line x1="702.9" y1="735.39" x2="702.9" y2="738.03" stroke="#A3A3A3" stroke-width="1.0" />
<line x1="701.3" y1="735.39" x2="704.5" y2="735.39" stroke="#A3A3A3" stroke-width="1.0" />
<line x1="701.3" y1="738.03" x2="704.5" y2="738.03" stroke="#A3A3A3" stroke-width="1.0" />
<path d="M535.5,759.64 L549.45,757.66 L563.4,758.98 L577.35,757.66 L591.3,760.3 L605.25,757.66 L619.2,735.26 L633.15,687.28 L647.1,690.84 L661.05,702.84 L675,709.95 L688.95,740.13 L702.9,736.71 L716.85,724.98" fill="none" stroke="#A3A3A3" stroke-width="1.5" stroke-linejoin="round"/>
<path d="M533.5,757.64 L537.5,761.64 M537.5,757.64 L533.5,761.64" stroke="#A3A3A3" stroke-width="0.8"/>
<path d="M547.45,755.66 L551.45,759.66 M551.45,755.66 L547.45,759.66" stroke="#A3A3A3" stroke-width="0.8"/>
<path d="M561.4,756.98 L565.4,760.98 M565.4,756.98 L561.4,760.98" stroke="#A3A3A3" stroke-width="0.8"/>
<path d="M575.35,755.66 L579.35,759.66 M579.35,755.66 L575.35,759.66" stroke="#A3A3A3" stroke-width="0.8"/>
<path d="M589.3,758.3 L593.3,762.3 M593.3,758.3 L589.3,762.3" stroke="#A3A3A3" stroke-width="0.8"/>
<path d="M603.25,755.66 L607.25,759.66 M607.25,755.66 L603.25,759.66" stroke="#A3A3A3" stroke-width="0.8"/>
<path d="M617.2,733.26 L621.2,737.26 M621.2,733.26 L617.2,737.26" stroke="#A3A3A3" stroke-width="0.8"/>
<path d="M631.15,685.28 L635.15,689.28 M635.15,685.28 L631.15,689.28" stroke="#A3A3A3" stroke-width="0.8"/>
<path d="M645.1,688.84 L649.1,692.84 M649.1,688.84 L645.1,692.84" stroke="#A3A3A3" stroke-width="0.8"/>
<path d="M659.05,700.84 L663.05,704.84 M663.05,700.84 L659.05,704.84" stroke="#A3A3A3" stroke-width="0.8"/>
<path d="M673,707.95 L677,711.95 M677,707.95 L673,711.95" stroke="#A3A3A3" stroke-width="0.8"/>
<path d="M686.95,738.13 L690.95,742.13 M690.95,738.13 L686.95,742.13" stroke="#A3A3A3" stroke-width="0.8"/>
<path d="M700.9,734.71 L704.9,738.71 M704.9,734.71 L700.9,738.71" stroke="#A3A3A3" stroke-width="0.8"/>
<path d="M714.85,722.98 L718.85,726.98 M718.85,722.98 L714.85,726.98" stroke="#A3A3A3" stroke-width="0.8"/>
<text x="0" y="0" font-size="11.8" text-anchor="middle" fill="#000" transform="translate(14.6,696.3) rotate(-90)">% of blocking sCD4</text>
<text x="0" y="0" font-size="11.8" text-anchor="middle" fill="#000" transform="translate(29.4,696.7) rotate(-90)">(gp120<tspan font-size="8.2" dy="2.6">CH505TF</tspan><tspan dy="-2.6">)</tspan></text>
<text x="65.1" y="798.6" font-size="12.8" font-weight="bold" text-anchor="start" fill="#000" >days</text>
<rect x="99.3" y="793.6" width="607" height="2.5" fill="#000"/>
<path d="M704.5,789.7 L715.8,794.85 L704.5,799.9 L707.3,794.85 Z" fill="#000"/>
</svg>
</body></html>
